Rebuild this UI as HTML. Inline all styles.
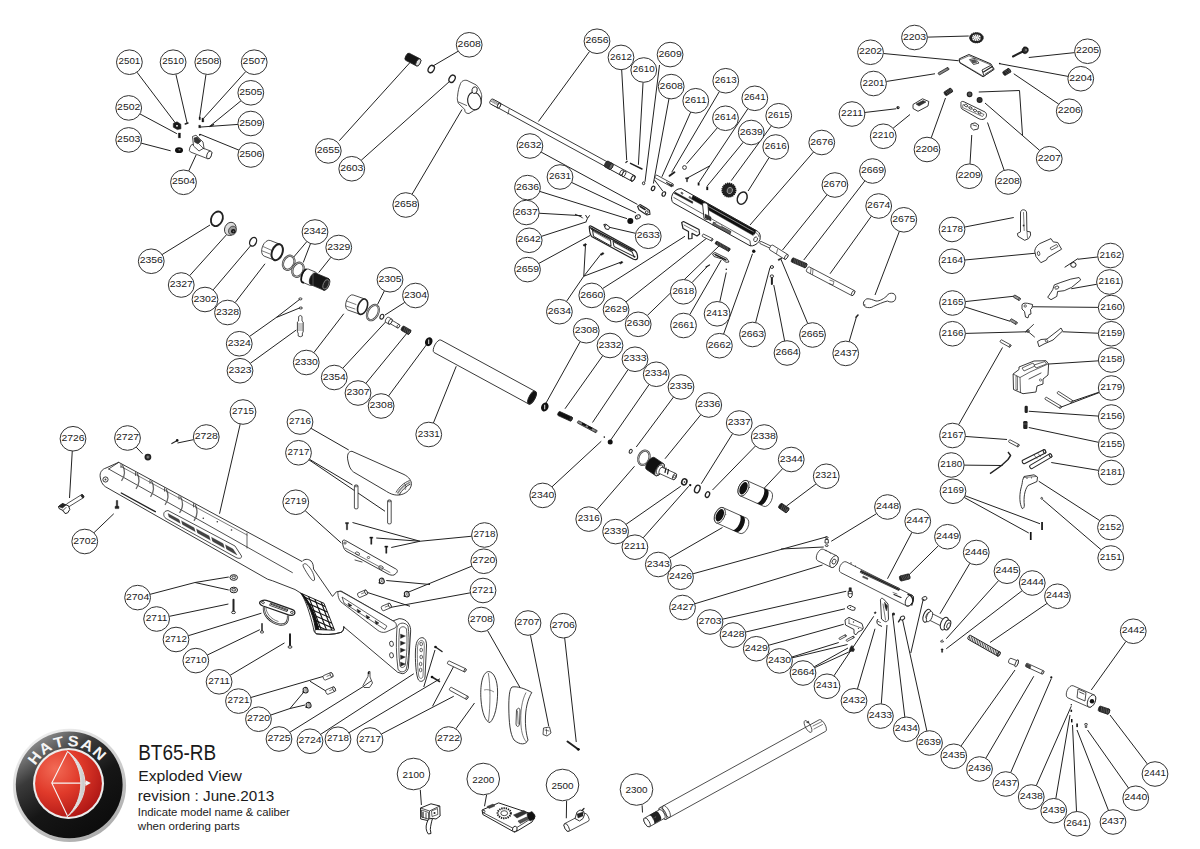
<!DOCTYPE html>
<html><head><meta charset="utf-8"><style>
html,body{margin:0;padding:0;background:#fff;width:1200px;height:849px;overflow:hidden}
svg{display:block}
</style></head><body>
<svg width="1200" height="849" viewBox="0 0 1200 849">
<rect width="1200" height="849" fill="#fff"/>
<path d="M136.95 72.18L175.4 123M175.87 74.21L187.1 123M205.99 74.38L199.5 118.2M245.79 71.53L203.7 118.2M240.99 100.79L210.3 125.8M237.94 124.41L199.9 127.1M238.94 150.15L199.9 134.2M139.95 113.92L176.9 133.7M141.15 143.13L170.7 150.8M188.7 171.04L196.1 155M458.2 51.23L432.5 66.25M339.3 140.7L410 62.5M361.16 160.34L450 81M412.07 194.28L462 109.5M589.63 51.34L538.4 121.5M621.68 69.68L626.7 160.1M643.06 82.28L638.4 164.8M659.5 65L645 181.8M668.97 98.72L653.4 183.5M654.4 179.9L662.9 191.2M690.71 112.07L661.9 176.8M719.42 91.47L671.7 172.3M747.89 108.69L709.9 165.8M709.9 165.8L687.2 178.1M709.9 165.8L698.9 182.6M717.35 127.79L686.6 163.8M743.29 142.18L707.3 185.9M771.37 125.84L731.2 180.7M769.12 157.55L748.1 191M813.52 151.97L750 225M541.11 152.09L637.4 204.4M571.56 182.45L636.1 212.9M539.76 191.42L627 218.6M539.13 213.24L581.8 215.7M541.42 236.36L586.5 221.8M538.7 263.49L590 235.5M635.71 233.35L608.2 227M566.47 301.41L583.75 276.25M583.75 276.25L585.5 245M583.75 276.25L601.25 253.75M583.75 276.25L620 262.5M602.54 288.58L685 236.25M626.03 301.85L707.5 237.5M647.25 315.53L720 245M691.95 282.67L707.5 266.25M689.71 314.72L721.25 260M719.77 301.77L726.25 272.5M723.59 334.07L752.5 253.75M755.62 322.56L770 267.5M784.64 340.91L773.75 285M807.74 323.57L781.25 260M849.18 341.56L856.25 317.5M827.04 194.75L782.5 250M864.85 180.9L803.75 260M871.41 216.15L830 273.75M899.38 231.35L875 295M927.39 37.14L968.75 36M883.33 53.49L958.75 60.75M886.23 81.48L935 73.75M864.8 112.48L896.25 108.75M893.07 128.27L910 114.5M931.18 137.86L945.5 98M969.99 163.97L971.75 135M1004.18 170.33L987.5 122.5M1039.71 150.47L985 103M1058.72 104.14L1013.75 73.75M1068.09 76.4L1000 63.75M1074.68 52.61L1028.75 57.5M964.64 227.04L1013.75 217.5M964.83 260.01L1035 253.25M965.31 301.59L1013.75 296.25M964.74 306.88L1010 321.25M965.39 333.41L1027.5 331.75M1097.69 256.98L1078 259.25M1096.82 284.24L1071.25 288.75M1098.35 307.38L1032.5 306.75M1098.36 333.22L1062.5 331.75M1098.38 360.83L1045 364.25M1099.11 392.15L1072.5 401.25M1099.27 392.56L1060 407.5M1098.38 416.1L1028.75 411.25M1098.66 442.33L1028.75 427.5M1098.54 470.38L1051.25 462.5M1099.81 520.61L1038.75 481.25M1101.16 549.78L1042.5 499.5M965.36 436.44L1007 439.5M958.64 424.69L1002.5 347.5M964.15 465.13L1002.5 465.5M965.01 495.74L1040 523.75M964.17 497.41L1028.75 533M162.08 254.57L210 225M189.65 275.67L226.25 235M213.11 289.94L251.25 245M235.13 302.58L265 263.75M306.88 241.56L293.75 257M310.55 243.55L303.25 262.5M330.93 257.28L318.75 272.5M249.6 336.41L276.25 317.5M276.25 317.5L299.5 299.5M276.25 317.5L299.5 308M250.27 363.31L296.25 330M313.88 352.58L343.75 313.75M384.4 290.83L377.5 304.5M404.79 302.35L385 315M342.78 368.27L386.25 321.25M365.93 383.3L407.5 332.5M388.54 395.95L427 344M433.38 423.02L456.25 366.25M580.2 341.61L546 403M602.76 355.68L565 408.75M628.04 369.61L592.5 422.5M649.14 384.51L610 441M673.52 397.02L636.25 447M700.84 414.72L665 458.75M732.64 433.56L701.25 483.75M755.46 446L712.5 490M782.63 468.65L762.5 490M816.11 483.85L786.25 506.25M551.96 486.84L601.25 441.25M596.96 509.61L634.5 466.25M626.02 524.35L680.75 486.25M643.21 537.79L688.75 486.25M669.34 558.14L722.5 527.5M692.89 573.82L827 536.75M781 549L823.75 547M694.79 603.77L822.5 565M876.63 513.62L831.25 541.25M911.97 532.24L887.5 578.75M938.54 545.6L908.75 575M969.91 563.21L940 613.75M998.6 580.58L946.25 638.75M1022.19 590.69L946.25 648.75M1047.02 603.43L990 642.5M1125.98 641.41L1091.25 690M722.55 619.17L846.25 591.25M745.53 632.06L845 608.75M768.63 645.28L843.75 624.25M791.77 657.09L838.75 642.5M792.01 657.88L847.5 644.5M814.15 666.81L848 648M814.63 667.67L851 651M833.93 675.87L873.75 616.25M857.45 688.95L875 628.75M881.29 703.83L887 625M904.84 717.08L892.5 613.75M926.86 730.96L902.4 619.2M910.8 653L923.5 598M960.98 746.07L1015 670M985.78 758.26L1033.75 676.25M1010.67 772.63L1051.25 678.75M1036.25 785.66L1071.25 706.25M1055.81 798.61L1070 715M1076.53 811.51L1072.5 725M1108.49 810.48L1077 730M1128.54 788.05L1087.5 730M1147.41 764.05L1110 715M240.23 424.01L219.5 513.75M72.27 451.03L69.5 498M136.17 447.11L142.5 453.75M193.65 439.63L177.5 443M311.05 428.35L348.75 450M309.43 459.28L352.5 485M309.02 459.87L385 511.25M305.15 510.67L341.25 543M93.86 532.79L113.75 513.75M150.04 594.33L195 582.5M195 582.5L228.75 577M195 582.5L228.75 590M169.2 616.37L228.4 604M188.28 635.72L261.4 613.2M207.31 655.04L259.8 629.7M230.04 675.29L284.5 642.9M250.84 697.5L323.75 676.25M310 681.25L326.25 691.25M270.65 715.07L290 708.5M290 708.5L303 693M290 708.5L305 705M289.8 732.28L363.75 686.25M320.66 734.32L413.75 673.75M348.95 732.75L440 678.75M423.75 687L435 650M381.31 734.09L453.75 696.25M432.5 706.25L453.75 666.25M455.82 728.87L474.5 703M487.41 630.31L520 687.5M530.43 635.08L548.75 726.25M564.66 637.93L576.25 742M471.67 536.24L420 541.25M420 541.25L352.5 522.5M420 541.25L376.25 538M420 541.25L391.25 547.5M471.9 566.11L407.5 592.5M430 584.5L386.25 580.5M470.33 592.82L390 607.5M410 606.25L367.5 592.5M420.3 789.8L421.4 805M486.6 794.8L484.5 806.25M566.6 800.8L566.3 818.25M642.1 805.3L642.5 812.5M1022.5 135L1019.5 90.5L978.75 92" fill="none" stroke="#222" stroke-width="1.0"/>
<g fill="none"><path d="M173.3 123.5 L177 121.8 L180.8 124.2 L181 128.8 L177.3 129.6 L173.3 127.2Z" fill="#1a1a1a" stroke="#222" stroke-width="0.6" stroke-linejoin="round"/><rect x="176" y="125" width="2" height="1.6" fill="#ccc"/><path d="M185.2 124L188 123" stroke="#222" stroke-width="1.4" stroke-linecap="round"/><path d="M199 117.1L200.4 117.1L200.4 119.8L199 119.8Z" fill="#111" stroke="#222" stroke-width="0.3" stroke-linejoin="round"/><path d="M201.9 118.1L203.8 118.1L203.8 122L201.9 122Z" fill="#111" stroke="#222" stroke-width="0.3" stroke-linejoin="round"/><path d="M198.7 125.2L200.6 125.2L200.6 127.8L198.7 127.8Z" fill="#111" stroke="#222" stroke-width="0.3" stroke-linejoin="round"/><path d="M209.9 126.4L213.5 124.6" stroke="#222" stroke-width="1.4" stroke-linecap="round"/><circle cx="199.8" cy="134.8" r="0.9" fill="#111"/><path d="M178.3 133L180.5 133L180.5 137.9L178.3 137.9Z" fill="#111" stroke="#222" stroke-width="0.3" stroke-linejoin="round"/><ellipse cx="179" cy="150.2" rx="4" ry="2.9" transform="rotate(0 179 150.2)" fill="#111" stroke="#222" stroke-width="0"/><ellipse cx="179.5" cy="149.8" rx="1.2" ry="0.8" fill="#888"/><path d="M190.51 152.02L207.71 158.72A2.25 4.1 21.28 0 0 210.69 151.08L193.49 144.38A2.25 4.1 21.28 0 0 190.51 152.02Z" fill="#fff" stroke="#222" stroke-width="0.8"/><ellipse cx="209.2" cy="154.9" rx="2.25" ry="4.1" transform="rotate(21.28 209.2 154.9)" fill="#fff" stroke="#222" stroke-width="0.8"/><path d="M192.5 136.5 L196 135.2 L203 142 L204 148 L199 151 L193.5 146 Z" fill="#fff" stroke="#222" stroke-width="0.8" stroke-linejoin="round"/><path d="M194 138 L197 137 L201 141 L198 144 L194.5 142Z" fill="#333" stroke="#222" stroke-width="0.5" stroke-linejoin="round"/><path d="M199 144L204 149" stroke="#222" stroke-width="0.7" stroke-linecap="round"/><path d="M405.66 60.35L416.46 65.95A2 4 27.41 0 0 420.14 58.85L409.34 53.25A2 4 27.41 0 0 405.66 60.35Z" fill="#151515" stroke="#222" stroke-width="0.8"/><ellipse cx="418.3" cy="62.4" rx="2" ry="4" transform="rotate(27.41 418.3 62.4)" fill="#e0e0e0" stroke="#222" stroke-width="0.8"/><ellipse cx="431.25" cy="69" rx="2.8" ry="3.9" transform="rotate(30 431.25 69)" fill="none" stroke="#222" stroke-width="1.3"/><ellipse cx="452.1" cy="78.75" rx="2.8" ry="3.9" transform="rotate(30 452.1 78.75)" fill="none" stroke="#222" stroke-width="1.3"/><path d="M460 85 C461 81, 464 79.8, 467 80.4 L476.3 85 C480 89, 482 94, 481.7 97 L480.8 104.2 C478 108, 476 110, 473.3 110.8 L469 113.5 C466 113.7, 464.5 112, 464.8 109.5 L458.3 103.3 C457 100, 457.3 97, 457.5 96.7 C458 91, 459 87, 460 85Z" fill="#fff" stroke="#222" stroke-width="0.8" stroke-linejoin="round"/><ellipse cx="474.4" cy="101" rx="6.7" ry="8.8" transform="rotate(-12 474.4 101)" fill="#fff" stroke="#222" stroke-width="1.1"/><ellipse cx="474.6" cy="90.2" rx="2.6" ry="3.4" transform="rotate(15 474.6 90.2)" fill="#fff" stroke="#222" stroke-width="0.9"/><path d="M458.6 102L466.6 105.5" stroke="#222" stroke-width="0.7" stroke-linecap="round"/><ellipse cx="216.9" cy="218.8" rx="5.6" ry="7.6" transform="rotate(25 216.9 218.8)" fill="none" stroke="#222" stroke-width="1.8"/><ellipse cx="230.3" cy="228.9" rx="5.6" ry="6.8" transform="rotate(25 230.3 228.9)" fill="#ddd" stroke="#222" stroke-width="0.8"/><ellipse cx="232.4" cy="230.6" rx="3.8" ry="4.6" transform="rotate(25 232.4 230.6)" fill="#999" stroke="#222" stroke-width="0.6"/><circle cx="233.3" cy="231.3" r="2.3" fill="#111"/><circle cx="233.5" cy="231.4" r="0.9" fill="#666"/><ellipse cx="253.1" cy="241.75" rx="3.2" ry="4.6" transform="rotate(25 253.1 241.75)" fill="none" stroke="#222" stroke-width="1.3"/><path d="M264.15 256.13L274.15 260.03A5.04 8.4 21.31 0 0 280.25 244.37L270.25 240.47A5.04 8.4 21.31 0 0 264.15 256.13Z" fill="#fff" stroke="#222" stroke-width="0.8"/><ellipse cx="277.2" cy="252.2" rx="5.2" ry="8.4" transform="rotate(21 277.2 252.2)" fill="#fff" stroke="#222" stroke-width="2.0"/><path d="M263 246.5L272 250.5" stroke="#222" stroke-width="0.6" stroke-linecap="round"/><path d="M262.5 251L270 254" stroke="#222" stroke-width="0.6" stroke-linecap="round"/><ellipse cx="288.7" cy="262.75" rx="5.4" ry="7.3" transform="rotate(25 288.7 262.75)" fill="none" stroke="#444" stroke-width="2.2"/><ellipse cx="288.7" cy="262.75" rx="5.4" ry="7.3" transform="rotate(25 288.7 262.75)" fill="none" stroke="#ccc" stroke-width="0.7"/><ellipse cx="298" cy="269.75" rx="5.4" ry="7.3" transform="rotate(25 298 269.75)" fill="none" stroke="#444" stroke-width="2.2"/><ellipse cx="298" cy="269.75" rx="5.4" ry="7.3" transform="rotate(25 298 269.75)" fill="none" stroke="#ccc" stroke-width="0.7"/><path d="M302.75 282.35L310.25 285.45A3.6 7.2 22.46 0 0 315.75 272.15L308.25 269.05A3.6 7.2 22.46 0 0 302.75 282.35Z" fill="#fff" stroke="#222" stroke-width="0.8"/><path d="M306.5 269 A3.2 7.2 22 0 0 304 282.4" stroke="#111" stroke-width="1.8" fill="none"/><path d="M310.55 284.6L323.55 290.1A3.15 6.3 22.93 0 0 328.45 278.5L315.45 273A3.15 6.3 22.93 0 0 310.55 284.6Z" fill="#151515" stroke="#222" stroke-width="0.8"/><ellipse cx="326" cy="284.3" rx="3.15" ry="6.3" transform="rotate(22.93 326 284.3)" fill="#151515" stroke="#222" stroke-width="0.8"/><ellipse cx="326" cy="284.3" rx="2.6" ry="5" transform="rotate(22 326 284.3)" fill="#222" stroke="#888" stroke-width="0.8"/><path d="M313 272.5L313 285" stroke="#888" stroke-width="0.5" stroke-linecap="round"/><ellipse cx="300.4" cy="298.9" rx="1.6" ry="1" transform="rotate(0 300.4 298.9)" fill="none" stroke="#222" stroke-width="0.9"/><ellipse cx="300.8" cy="308" rx="1.6" ry="1" transform="rotate(0 300.8 308)" fill="none" stroke="#222" stroke-width="0.9"/><path d="M298.6 316.5 Q300.3 314.4 302 316.5 L302 321 L303.2 322 L303.2 332 L302.4 333 L302.4 336 Q300.3 337.5 298.2 336 L298.2 333 L297.4 332 L297.4 322 L298.6 321Z" fill="#fff" stroke="#222" stroke-width="0.8" stroke-linejoin="round"/><path d="M297.6 324L303 324" stroke="#222" stroke-width="0.5" stroke-linecap="round"/><path d="M297.6 326L303 326" stroke="#222" stroke-width="0.5" stroke-linecap="round"/><path d="M297.6 330L303 330" stroke="#222" stroke-width="0.5" stroke-linecap="round"/><path d="M297.6 328L303 328" stroke="#222" stroke-width="0.5" stroke-linecap="round"/><path d="M347.88 310.06L359.98 314.26A4.4 8 19.14 0 0 365.22 299.14L353.12 294.94A4.4 8 19.14 0 0 347.88 310.06Z" fill="#fff" stroke="#222" stroke-width="0.8"/><ellipse cx="362.6" cy="306.7" rx="4.6" ry="8" transform="rotate(20 362.6 306.7)" fill="#fff" stroke="#222" stroke-width="1.6"/><path d="M346.5 301L356 304.5" stroke="#222" stroke-width="0.6" stroke-linecap="round"/><path d="M346 306L355 309" stroke="#222" stroke-width="0.6" stroke-linecap="round"/><ellipse cx="372.9" cy="312.6" rx="5.2" ry="8.2" transform="rotate(28 372.9 312.6)" fill="none" stroke="#444" stroke-width="2.2"/><ellipse cx="372.9" cy="312.6" rx="5.2" ry="8.2" transform="rotate(28 372.9 312.6)" fill="none" stroke="#ccc" stroke-width="0.7"/><ellipse cx="381.9" cy="316.7" rx="1.8" ry="2.5" transform="rotate(25 381.9 316.7)" fill="none" stroke="#222" stroke-width="1.1"/><path d="M388.53 322.64L397.33 327.84A1.14 1.9 30.58 0 0 399.27 324.56L390.47 319.36A1.14 1.9 30.58 0 0 388.53 322.64Z" fill="#fff" stroke="#222" stroke-width="0.8"/><ellipse cx="398.3" cy="326.2" rx="1.14" ry="1.9" transform="rotate(30.58 398.3 326.2)" fill="#fff" stroke="#222" stroke-width="0.8"/><path d="M385.74 322.31L388.84 324.11A1.45 2.9 30.14 0 0 391.76 319.09L388.66 317.29A1.45 2.9 30.14 0 0 385.74 322.31Z" fill="#fff" stroke="#222" stroke-width="0.8"/><ellipse cx="390.3" cy="321.6" rx="1.45" ry="2.9" transform="rotate(30.14 390.3 321.6)" fill="#fff" stroke="#222" stroke-width="0.8"/><path d="M401.44 330.46L407.94 334.26A1.12 2.5 30.31 0 0 410.46 329.94L403.96 326.14A1.12 2.5 30.31 0 0 401.44 330.46Z" fill="#222" stroke="#222" stroke-width="0.8"/><ellipse cx="409.2" cy="332.1" rx="1.12" ry="2.5" transform="rotate(30.31 409.2 332.1)" fill="#555" stroke="#222" stroke-width="0.8"/><path d="M403.75 331.23L404.9 327.27" stroke="#aaa" stroke-width="0.35"/><path d="M405.37 332.18L406.53 328.22" stroke="#aaa" stroke-width="0.35"/><path d="M407 333.13L408.15 329.17" stroke="#aaa" stroke-width="0.35"/><path d="M434.11 352.54L528.61 403.94A2.98 7.1 28.54 0 0 535.39 391.46L440.89 340.06A2.98 7.1 28.54 0 0 434.11 352.54Z" fill="#fff" stroke="#222" stroke-width="0.9"/><ellipse cx="532" cy="397.7" rx="2.98" ry="7.1" transform="rotate(28.54 532 397.7)" fill="#111" stroke="#222" stroke-width="0.9"/><ellipse cx="428.75" cy="341.7" rx="3.6" ry="4.6" transform="rotate(25 428.75 341.7)" fill="#111" stroke="#222" stroke-width="0"/><path d="M428.3 339.5 L429.2 339.5 L429.2 344 L428.3 344Z" fill="#fff"/><ellipse cx="544.8" cy="407" rx="3.6" ry="4.6" transform="rotate(25 544.8 407)" fill="#111" stroke="#222" stroke-width="0"/><path d="M544.3 404.8 L545.2 404.8 L545.2 409.3 L544.3 409.3Z" fill="#fff"/><path d="M100.2 477 C99.5 472.5 102 469.2 106 468 L118.7 462.3 L302 561.5 C304 559 308 558.5 311 561 C313 563 313.5 566 313.5 569 L332.5 596.4 L336.4 591.8 L341 591 L393 620.9 L399.2 618.6 C403 618.8 406 620 408 622.8 C410.5 626 410.8 629 410.6 632 L408.3 668.3 C407 672 404.5 673.8 402.2 673.7 L397.6 672.2 L344 627 C344 629.5 342.5 632 341 632.4 C333 634.8 324 634.8 316.4 633.9 C313.5 632 313.5 629.5 313.4 627.8 C310 614 306 601 301.1 593.3 L295 589.5 L272.6 580.8 L267.6 579.2 L105.5 486.8 C102.5 485 100.6 481 100.2 477Z" fill="#fff" stroke="#222" stroke-width="0.9" stroke-linejoin="round"/><path d="M108.7 469L292.4 572.6" stroke="#222" stroke-width="0.8" stroke-linecap="round"/><path d="M118.7 462.3L108.7 469" stroke="#222" stroke-width="0.8" stroke-linecap="round"/><path d="M247 533L247 548" stroke="#222" stroke-width="0.7" stroke-linecap="round"/><path d="M121.0 463.8 L121.0 468.0" fill="none" stroke="#222" stroke-width="0.7" stroke-linejoin="round"/><path d="M122.5 465.0 Q127.0 473.7 121.5 480.8" fill="none" stroke="#666" stroke-width="1.3" stroke-linejoin="round"/><path d="M135.5 471.7 L135.5 475.9" fill="none" stroke="#222" stroke-width="0.7" stroke-linejoin="round"/><path d="M137.0 472.9 Q141.5 481.6 136.0 488.8" fill="none" stroke="#666" stroke-width="1.3" stroke-linejoin="round"/><path d="M150.0 479.6 L150.0 483.8" fill="none" stroke="#222" stroke-width="0.7" stroke-linejoin="round"/><path d="M151.5 480.8 Q156.0 489.5 150.5 496.8" fill="none" stroke="#666" stroke-width="1.3" stroke-linejoin="round"/><path d="M164.5 487.4 L164.5 491.6" fill="none" stroke="#222" stroke-width="0.7" stroke-linejoin="round"/><path d="M166.0 488.6 Q170.5 497.5 165.0 504.8" fill="none" stroke="#666" stroke-width="1.3" stroke-linejoin="round"/><path d="M179.0 495.3 L179.0 499.5" fill="none" stroke="#222" stroke-width="0.7" stroke-linejoin="round"/><path d="M180.5 496.5 Q185.0 505.4 179.5 512.8" fill="none" stroke="#666" stroke-width="1.3" stroke-linejoin="round"/><path d="M193.5 503.2 L193.5 507.4" fill="none" stroke="#222" stroke-width="0.7" stroke-linejoin="round"/><path d="M195.0 504.4 Q199.5 513.3 194.0 520.8" fill="none" stroke="#666" stroke-width="1.3" stroke-linejoin="round"/><path d="M121 466.5L247 535" stroke="#222" stroke-width="0.6" stroke-linecap="round"/><ellipse cx="105.5" cy="479.5" rx="2.6" ry="2.6" transform="rotate(0 105.5 479.5)" fill="none" stroke="#222" stroke-width="0.9"/><circle cx="105.5" cy="479.5" r="1" fill="#444"/><path d="M121.3 493L155.3 511.7" stroke="#222" stroke-width="1.4" stroke-linecap="round"/><path d="M166 511 C163 512 163 516.5 166 518.5 L236 557.5 C239 559 242 558.5 241.5 556 L235 546 L168 510.5Z" fill="#fff" stroke="#222" stroke-width="0.8" stroke-linejoin="round"/><path d="M168 513.5 L233 549 L237 555 L169 517Z" fill="#444" stroke="#222" stroke-width="0.3" stroke-linejoin="round"/><path d="M180.0 518.7 L182.0 526.7" stroke="#fff" stroke-width="1.6"/><path d="M195.0 527.0 L197.0 535.0" stroke="#fff" stroke-width="1.6"/><path d="M210.0 535.2 L212.0 543.2" stroke="#fff" stroke-width="1.6"/><path d="M224.0 542.9 L226.0 550.9" stroke="#fff" stroke-width="1.6"/><circle cx="203.3" cy="518.2" r="0.8" fill="#333"/><circle cx="217.3" cy="521.8" r="0.8" fill="#333"/><circle cx="231.5" cy="530" r="0.8" fill="#333"/><path d="M303.5 567 C302 564 304.5 563 306.5 564.3 C310 567 314 573 314.6 579 C314.8 581 313 581 311.5 579.5 C308 575 305 570 303.5 567Z" fill="#fff" stroke="#222" stroke-width="0.8" stroke-linejoin="round"/><clipPath id="gripc"><path d="M300.7 593.1 L324 603.3 L334.6 630.2 L315.5 629.5 C314 618 309 604 300.7 593.1Z"/></clipPath><path d="M300.7 593.1 L324 603.3 L334.6 630.2 L315.5 629.5 C314 618 309 604 300.7 593.1Z" fill="#fff" stroke="#222" stroke-width="1.0" stroke-linejoin="round"/><g clip-path="url(#gripc)" stroke="#111" stroke-width="1.1"><path d="M295 593.0 L340 613.0"/><path d="M295 597.6 L340 617.6"/><path d="M295 602.2 L340 622.2"/><path d="M295 606.8 L340 626.8"/><path d="M295 611.4 L340 631.4"/><path d="M295 616.0 L340 636.0"/><path d="M295 620.6 L340 640.6"/><path d="M295 625.2 L340 645.2"/><path d="M301.0 590 L318.0 635"/><path d="M306.2 590 L323.2 635"/><path d="M311.4 590 L328.4 635"/><path d="M316.6 590 L333.6 635"/><path d="M321.8 590 L338.8 635"/><path d="M300.7 593.1 C309 604 314 618 315.5 629.5 L319.5 630 C317 618 311 602 303 594Z" fill="#111" stroke="none"/></g><path d="M315 629.5 C314.5 632 315.5 633.7 317 633.9 C324 635 334 634.8 341 632.4 C343 631.5 344 629 343.8 626" fill="none" stroke="#222" stroke-width="1.0" stroke-linejoin="round"/><path d="M338 594 C337 591.5 339.5 590.8 342 592 L394 621.5 C397 623 397 627 395 628 L386 632 C383 633 380 632 378 630.5 L341 602 C338.5 599 338 596 338 594Z" fill="#fff" stroke="#222" stroke-width="0.8" stroke-linejoin="round"/><path d="M342 597 L386.9 626 L385 629.5 L344 603Z" fill="#fff" stroke="#222" stroke-width="0.7" stroke-linejoin="round"/><path d="M348.0 603.0 l4 2.5 l-3 1.5Z" fill="#222" stroke="#222" stroke-width="0.4" stroke-linejoin="round"/><path d="M357.0 609.0 l4 2.5 l-3 1.5Z" fill="#222" stroke="#222" stroke-width="0.4" stroke-linejoin="round"/><path d="M366.0 615.0 l4 2.5 l-3 1.5Z" fill="#222" stroke="#222" stroke-width="0.4" stroke-linejoin="round"/><path d="M375.0 620.5 l4 2.5 l-3 1.5Z" fill="#222" stroke="#222" stroke-width="0.4" stroke-linejoin="round"/><path d="M397 627 C399 622 405 622 408 626 C410 640 409 660 406 670 C403 673 399 672 398 669 C396 655 396 640 397 627Z" fill="#fff" stroke="#222" stroke-width="0.8" stroke-linejoin="round"/><path d="M399.5 629 C401 626 405 626 406.5 629 C407.5 640 407 656 405 666 C403 668 401 668 400 666 C398.5 655 398.5 640 399.5 629Z" fill="#fff" stroke="#222" stroke-width="0.7" stroke-linejoin="round"/><path d="M400.5 634.0 l5 2 l-5 2.5Z" fill="#222" stroke="#222" stroke-width="0.3" stroke-linejoin="round"/><path d="M400.5 641.0 l5 2 l-5 2.5Z" fill="#222" stroke="#222" stroke-width="0.3" stroke-linejoin="round"/><path d="M400.5 648.0 l5 2 l-5 2.5Z" fill="#222" stroke="#222" stroke-width="0.3" stroke-linejoin="round"/><path d="M400.5 655.0 l5 2 l-5 2.5Z" fill="#222" stroke="#222" stroke-width="0.3" stroke-linejoin="round"/><path d="M400.5 662.0 l5 2 l-5 2.5Z" fill="#222" stroke="#222" stroke-width="0.3" stroke-linejoin="round"/><ellipse cx="391.5" cy="643.8" rx="1.9" ry="2.7" transform="rotate(-10 391.5 643.8)" fill="none" stroke="#222" stroke-width="0.8"/><ellipse cx="391.5" cy="655.3" rx="1.9" ry="2.7" transform="rotate(-10 391.5 655.3)" fill="none" stroke="#222" stroke-width="0.8"/><path d="M68.45 507.03L83.45 497.73A1.08 1.8 -31.8 0 0 81.55 494.67L66.55 503.97A1.08 1.8 -31.8 0 0 68.45 507.03Z" fill="#fff" stroke="#222" stroke-width="0.8"/><ellipse cx="82.5" cy="496.2" rx="1.08" ry="1.8" transform="rotate(-31.8 82.5 496.2)" fill="#222" stroke="#222" stroke-width="0.8"/><path d="M58.5 506.5 L62.5 503.6 L68.5 505.8 L69.8 509.5 L67.5 513 L65 513.5 L63 510.5 L59 508.5Z" fill="#fff" stroke="#222" stroke-width="1.0" stroke-linejoin="round"/><path d="M58.5 506.5 L62.5 503.6 L66 505 L62.5 508Z" fill="#222" stroke="#222" stroke-width="0.6" stroke-linejoin="round"/><path d="M63 510.5L66 507.5" stroke="#222" stroke-width="0.8" stroke-linecap="round"/><path d="M116.3 500.5 L117.7 500.5 L117.7 506 L119 506.5 L118.8 508.6 L115.2 508.6 L115 506.5 L116.3 506Z" fill="#222" stroke="#222" stroke-width="0.5" stroke-linejoin="round"/><ellipse cx="147.9" cy="457.1" rx="2.6" ry="2.6" transform="rotate(0 147.9 457.1)" fill="#555" stroke="#222" stroke-width="1.6"/><circle cx="147.9" cy="457.1" r="0.8" fill="#999"/><path d="M171.8 443.6L177.3 440.6" stroke="#222" stroke-width="1.1" stroke-linecap="round"/><circle cx="177.2" cy="440.4" r="1.3" fill="#111"/><ellipse cx="233.75" cy="577.5" rx="3.8" ry="2.8" transform="rotate(0 233.75 577.5)" fill="#fff" stroke="#222" stroke-width="1.0"/><ellipse cx="233.75" cy="577.3" rx="2" ry="1.3" transform="rotate(0 233.75 577.3)" fill="#ddd" stroke="#222" stroke-width="0.8"/><ellipse cx="233.75" cy="590" rx="3.8" ry="2.8" transform="rotate(0 233.75 590)" fill="#fff" stroke="#222" stroke-width="1.0"/><ellipse cx="233.75" cy="589.8" rx="2" ry="1.3" transform="rotate(0 233.75 589.8)" fill="#ddd" stroke="#222" stroke-width="0.8"/><path d="M233.5 599.8L233.5 611.5" stroke="#222" stroke-width="2.0" stroke-linecap="round"/><ellipse cx="233.5" cy="612.4" rx="2" ry="1.2" transform="rotate(0 233.5 612.4)" fill="#fff" stroke="#222" stroke-width="0.9"/><path d="M264 607 C263 615 270 622.5 279.5 624.5 C285 625.5 288.5 622.5 288 615.5" fill="none" stroke="#222" stroke-width="2.2" stroke-linejoin="round"/><path d="M264 607 C263 615 270 622.5 279.5 624.5 C285 625.5 288.5 622.5 288 615.5" fill="none" stroke="#fff" stroke-width="0.7" stroke-linejoin="round"/><path d="M261.5 600.8 C263.5 599.8 266 600 268 600.8 L292.5 609.6 C295 610.6 295.6 613 294 614.5 C292.5 615.6 290.5 615.4 288.5 614.8 L263 606 C260.5 605 259 603.3 259.8 602 Z" fill="#fff" stroke="#222" stroke-width="1.3" stroke-linejoin="round"/><path d="M270.5 603.2 L288 609.6 L287 611.6 L269.5 605.3Z" fill="#fff" stroke="#222" stroke-width="0.8" stroke-linejoin="round"/><path d="M271 604.3L287.5 610.5" stroke="#222" stroke-width="0.9" stroke-linecap="round"/><ellipse cx="263" cy="602.6" rx="1.4" ry="1" transform="rotate(20 263 602.6)" fill="none" stroke="#222" stroke-width="0.8"/><ellipse cx="291.8" cy="612.4" rx="1.4" ry="1" transform="rotate(20 291.8 612.4)" fill="none" stroke="#222" stroke-width="0.8"/><path d="M266 607.5 C266 613 271 619.5 278.5 621.5" fill="none" stroke="#222" stroke-width="0.6" stroke-linejoin="round"/><path d="M262 623.8L262 631.2" stroke="#222" stroke-width="1.5" stroke-linecap="round"/><ellipse cx="262" cy="632" rx="1.7" ry="1.1" transform="rotate(0 262 632)" fill="#fff" stroke="#222" stroke-width="0.8"/><path d="M290 634.3L290 646" stroke="#222" stroke-width="2.0" stroke-linecap="round"/><ellipse cx="290" cy="647" rx="2" ry="1.2" transform="rotate(0 290 647)" fill="#fff" stroke="#222" stroke-width="0.9"/><path d="M348 461 C346.5 455 348.5 451 352 451.3 L404 474.5 C409 477 412 481 411.3 485 C410.5 490 405 494.5 399 495 C393 495.5 389 493 385 490.5 L353.5 472 C350 469.5 348.8 465 348 461Z" fill="#fff" stroke="#222" stroke-width="0.9" stroke-linejoin="round"/><path d="M399 495 C402 490 406 486 410.5 484" fill="none" stroke="#222" stroke-width="0.9" stroke-linejoin="round"/><path d="M396 492.5 C399 487 404 482.5 409.8 480.5" fill="none" stroke="#222" stroke-width="0.8" stroke-linejoin="round"/><path d="M397.5 493.5 C400.5 488.5 405 484.3 410.2 482.3" fill="none" stroke="#888" stroke-width="1.6" stroke-linejoin="round"/><path d="M404 483 C406 485 406.5 488 405 490" fill="none" stroke="#222" stroke-width="0.6" stroke-linejoin="round"/><path d="M354.4 486L354.4 508A0.9 1.8 90 0 0 358 508L358 486A0.9 1.8 90 0 0 354.4 486Z" fill="#fff" stroke="#222" stroke-width="0.8"/><ellipse cx="356.2" cy="486" rx="1.8" ry="0.8" transform="rotate(0 356.2 486)" fill="#fff" stroke="#222" stroke-width="0.7"/><path d="M387.6 501L387.6 523A0.9 1.8 90 0 0 391.2 523L391.2 501A0.9 1.8 90 0 0 387.6 501Z" fill="#fff" stroke="#222" stroke-width="0.8"/><ellipse cx="389.4" cy="501" rx="1.8" ry="0.8" transform="rotate(0 389.4 501)" fill="#fff" stroke="#222" stroke-width="0.7"/><path d="M345.5 522.5 h3 v1.3 h-0.9 v6 h-1.2 v-6 h-0.9Z" fill="#111" stroke="#222" stroke-width="0.4" stroke-linejoin="round"/><path d="M369.8 537.0 h3 v1.3 h-0.9 v6 h-1.2 v-6 h-0.9Z" fill="#111" stroke="#222" stroke-width="0.4" stroke-linejoin="round"/><path d="M384.8 546.0 h3 v1.3 h-0.9 v6 h-1.2 v-6 h-0.9Z" fill="#111" stroke="#222" stroke-width="0.4" stroke-linejoin="round"/><path d="M342.5 542.5 C342 540 344 539.5 345.5 540.5 L395 568.5 C397.5 569.5 398 571 396.5 573 L394 575 C392 575.5 390 575 388 574 L346 551 C343.5 549 343 546 342.5 542.5Z" fill="#fff" stroke="#222" stroke-width="0.9" stroke-linejoin="round"/><path d="M345 548L390 572.5" stroke="#222" stroke-width="0.6" stroke-linecap="round"/><ellipse cx="345" cy="543" rx="1.3" ry="1" transform="rotate(0 345 543)" fill="none" stroke="#222" stroke-width="0.7"/><ellipse cx="357.5" cy="553.5" rx="2.2" ry="1.3" transform="rotate(25 357.5 553.5)" fill="none" stroke="#222" stroke-width="0.7"/><ellipse cx="368.5" cy="557.5" rx="1.2" ry="1" transform="rotate(0 368.5 557.5)" fill="none" stroke="#222" stroke-width="0.7"/><ellipse cx="381" cy="567.5" rx="2.3" ry="1.6" transform="rotate(20 381 567.5)" fill="none" stroke="#222" stroke-width="0.7"/><path d="M355 560L362 562" stroke="#222" stroke-width="0.8" stroke-linecap="round"/><circle cx="379.55" cy="582.75" r="1" fill="#111"/><ellipse cx="381.85" cy="580.95" rx="2.4" ry="2.8" transform="rotate(-20 381.85 580.95)" fill="#fff" stroke="#222" stroke-width="1.0"/><ellipse cx="382.15" cy="580.75" rx="1" ry="1.3" transform="rotate(-20 382.15 580.75)" fill="none" stroke="#222" stroke-width="0.6"/><circle cx="404.55" cy="596" r="1" fill="#111"/><ellipse cx="406.85" cy="594.2" rx="2.4" ry="2.8" transform="rotate(-20 406.85 594.2)" fill="#fff" stroke="#222" stroke-width="1.0"/><ellipse cx="407.15" cy="594" rx="1" ry="1.3" transform="rotate(-20 407.15 594)" fill="none" stroke="#222" stroke-width="0.6"/><circle cx="303.3" cy="692" r="1" fill="#111"/><ellipse cx="305.6" cy="690.2" rx="2.4" ry="2.8" transform="rotate(-20 305.6 690.2)" fill="#fff" stroke="#222" stroke-width="1.0"/><ellipse cx="305.9" cy="690" rx="1" ry="1.3" transform="rotate(-20 305.9 690)" fill="none" stroke="#222" stroke-width="0.6"/><circle cx="306.3" cy="707" r="1" fill="#111"/><ellipse cx="308.6" cy="705.2" rx="2.4" ry="2.8" transform="rotate(-20 308.6 705.2)" fill="#fff" stroke="#222" stroke-width="1.0"/><ellipse cx="308.9" cy="705" rx="1" ry="1.3" transform="rotate(-20 308.9 705)" fill="none" stroke="#222" stroke-width="0.6"/><path d="M359.95 597.46L366.95 594.46A1.2 2.4 -23.2 0 0 365.05 590.04L358.05 593.04A1.2 2.4 -23.2 0 0 359.95 597.46Z" fill="#fff" stroke="#222" stroke-width="0.8"/><ellipse cx="366" cy="592.25" rx="1.2" ry="2.4" transform="rotate(-23.2 366 592.25)" fill="#fff" stroke="#222" stroke-width="0.8"/><path d="M361.5 593.75L364 592.75" stroke="#222" stroke-width="0.6" stroke-linecap="round"/><path d="M383.7 610.71L390.7 607.71A1.2 2.4 -23.2 0 0 388.8 603.29L381.8 606.29A1.2 2.4 -23.2 0 0 383.7 610.71Z" fill="#fff" stroke="#222" stroke-width="0.8"/><ellipse cx="389.75" cy="605.5" rx="1.2" ry="2.4" transform="rotate(-23.2 389.75 605.5)" fill="#fff" stroke="#222" stroke-width="0.8"/><path d="M385.25 607L387.75 606" stroke="#222" stroke-width="0.6" stroke-linecap="round"/><path d="M325.45 680.01L332.45 677.01A1.2 2.4 -23.2 0 0 330.55 672.59L323.55 675.59A1.2 2.4 -23.2 0 0 325.45 680.01Z" fill="#fff" stroke="#222" stroke-width="0.8"/><ellipse cx="331.5" cy="674.8" rx="1.2" ry="2.4" transform="rotate(-23.2 331.5 674.8)" fill="#fff" stroke="#222" stroke-width="0.8"/><path d="M327 676.3L329.5 675.3" stroke="#222" stroke-width="0.6" stroke-linecap="round"/><path d="M328.05 694.31L335.05 691.31A1.2 2.4 -23.2 0 0 333.15 686.89L326.15 689.89A1.2 2.4 -23.2 0 0 328.05 694.31Z" fill="#fff" stroke="#222" stroke-width="0.8"/><ellipse cx="334.1" cy="689.1" rx="1.2" ry="2.4" transform="rotate(-23.2 334.1 689.1)" fill="#fff" stroke="#222" stroke-width="0.8"/><path d="M329.6 690.6L332.1 689.6" stroke="#222" stroke-width="0.6" stroke-linecap="round"/><path d="M363 685.5 L366 680 L368 676.5 L368.5 671.5 L370 671.5 L370 677 L372.5 683 L369.5 687.5 L364 687.5Z" fill="#fff" stroke="#222" stroke-width="0.8" stroke-linejoin="round"/><circle cx="368.6" cy="673" r="1" fill="#111"/><path d="M364 686L371 681" stroke="#222" stroke-width="0.9" stroke-linecap="round"/><path d="M420.5 638 C424 636.5 426.8 640 426.5 646 L425 677 C424.3 681.5 420.5 682.5 418.5 680 C416 676 415 660 415.5 650 C415.8 643 417.5 639 420.5 638Z" fill="#fff" stroke="#222" stroke-width="0.9" stroke-linejoin="round"/><path d="M420.8 640.5 C423.5 640 424.5 643 424.3 647 L423 676 C422.5 679 420 679 419 677 C417.5 670 417 655 417.5 648 C417.8 643.5 419 641 420.8 640.5Z" fill="#fff" stroke="#222" stroke-width="0.6" stroke-linejoin="round"/><ellipse cx="421.2" cy="644" rx="1.3" ry="1.8" transform="rotate(0 421.2 644)" fill="none" stroke="#222" stroke-width="0.7"/><ellipse cx="421.2" cy="650" rx="1.3" ry="1.8" transform="rotate(0 421.2 650)" fill="none" stroke="#222" stroke-width="0.7"/><ellipse cx="421.2" cy="657" rx="1.3" ry="1.8" transform="rotate(0 421.2 657)" fill="none" stroke="#222" stroke-width="0.7"/><ellipse cx="420.6" cy="664" rx="1.3" ry="1.8" transform="rotate(0 420.6 664)" fill="none" stroke="#222" stroke-width="0.7"/><ellipse cx="420.6" cy="670" rx="1.3" ry="1.8" transform="rotate(0 420.6 670)" fill="none" stroke="#222" stroke-width="0.7"/><path d="M435.5 647L442 651.5" stroke="#222" stroke-width="1.5" stroke-linecap="round"/><circle cx="435.5" cy="647" r="1.3" fill="#111"/><path d="M432 677L439.5 681.5" stroke="#222" stroke-width="1.5" stroke-linecap="round"/><circle cx="432" cy="677" r="1.3" fill="#111"/><path d="M447.77 664.04L464.27 671.84A0.85 1.7 25.3 0 0 465.73 668.76L449.23 660.96A0.85 1.7 25.3 0 0 447.77 664.04Z" fill="#fff" stroke="#222" stroke-width="0.8"/><ellipse cx="465" cy="670.3" rx="0.85" ry="1.7" transform="rotate(25.3 465 670.3)" fill="#fff" stroke="#222" stroke-width="0.8"/><path d="M449.69 690.29L466.19 699.29A0.85 1.7 28.61 0 0 467.81 696.31L451.31 687.31A0.85 1.7 28.61 0 0 449.69 690.29Z" fill="#fff" stroke="#222" stroke-width="0.8"/><ellipse cx="467" cy="697.8" rx="0.85" ry="1.7" transform="rotate(28.61 467 697.8)" fill="#fff" stroke="#222" stroke-width="0.8"/><path d="M488.5 671.5 C494 672 497.5 680 497.6 692 C497.6 705 495 718 490 722.5 C485.5 722 482 713 481 700 C480 686 482 672.5 488.5 671.5Z" fill="#fff" stroke="#222" stroke-width="0.9" stroke-linejoin="round"/><path d="M488.3 673 C490.5 685 490.5 705 488.5 721" fill="none" stroke="#222" stroke-width="0.6" stroke-linejoin="round"/><path d="M484 690 C487 689 491 690 494 692" fill="none" stroke="#222" stroke-width="0.5" stroke-linejoin="round"/><path d="M512 687 C517 686 525 688.5 531.8 692.5 C529 697 526 705 525.5 716 C525 727 526.5 735 528 740 C526 745 520 745.3 514 740 C510 734 509 722 508.8 708 C508.7 697 509.5 689 512 687Z" fill="#fff" stroke="#222" stroke-width="0.9" stroke-linejoin="round"/><path d="M526 692.5 C522 700 520 712 521 725 C521.5 733 523.5 739 526.5 742" fill="none" stroke="#222" stroke-width="0.6" stroke-linejoin="round"/><path d="M516.5 710 C518.5 707 520 708 520 711 L519.5 724 C519 727 516.5 727.5 516 724Z" fill="#fff" stroke="#222" stroke-width="0.8" stroke-linejoin="round"/><path d="M517.5 711L518.2 724" stroke="#222" stroke-width="0.6" stroke-linecap="round"/><path d="M543.5 728 L549.5 727 L551 733 L547 736 L543 734.5Z" fill="#fff" stroke="#222" stroke-width="0.8" stroke-linejoin="round"/><path d="M545 730L549 731" stroke="#222" stroke-width="0.6" stroke-linecap="round"/><path d="M546.5 729L546.5 734" stroke="#222" stroke-width="0.6" stroke-linecap="round"/><path d="M567.5 741.5L578.5 749.5" stroke="#222" stroke-width="2.0" stroke-linecap="round"/><circle cx="578.3" cy="749.3" r="1.4" fill="#111"/><path d="M492.3 104.69L631.3 180.69A1.25 2.5 28.67 0 0 633.7 176.31L494.7 100.31A1.25 2.5 28.67 0 0 492.3 104.69Z" fill="#fff" stroke="#222" stroke-width="0.9"/><ellipse cx="632.5" cy="178.5" rx="1.25" ry="2.5" transform="rotate(28.67 632.5 178.5)" fill="#fff" stroke="#222" stroke-width="0.9"/><path d="M490.2 103.77L497.7 107.87A1.35 2.7 28.66 0 0 500.3 103.13L492.8 99.03A1.35 2.7 28.66 0 0 490.2 103.77Z" fill="#fff" stroke="#222" stroke-width="0.9"/><ellipse cx="499" cy="105.5" rx="1.35" ry="2.7" transform="rotate(28.66 499 105.5)" fill="#fff" stroke="#222" stroke-width="0.9"/><path d="M492.5 99.6l-1.2 2.4M493.6 100.2l-1.2 2.4M494.6 100.8l-1.2 2.4M495.6 101.3l-1.2 2.4M496.7 101.9l-1.2 2.4M497.8 102.5l-1.2 2.4M498.8 103.1l-1.2 2.4" stroke="#333" stroke-width="0.6"/><path d="M509 109.5L508 114" stroke="#222" stroke-width="0.7" stroke-linecap="round"/><path d="M607.52 168.03L631.52 181.03A1.55 3.1 28.44 0 0 634.48 175.57L610.48 162.57A1.55 3.1 28.44 0 0 607.52 168.03Z" fill="#fff" stroke="#222" stroke-width="0.9"/><ellipse cx="633" cy="178.3" rx="1.55" ry="3.1" transform="rotate(28.44 633 178.3)" fill="#fff" stroke="#222" stroke-width="0.9"/><path d="M604.9 166.88L609.4 169.38A1.65 3.3 29.05 0 0 612.6 163.62L608.1 161.12A1.65 3.3 29.05 0 0 604.9 166.88Z" fill="#333" stroke="#222" stroke-width="0.8"/><ellipse cx="611" cy="166.5" rx="1.65" ry="3.3" transform="rotate(29.05 611 166.5)" fill="#666" stroke="#222" stroke-width="0.8"/><ellipse cx="621.5" cy="172.6" rx="1.4" ry="3.1" transform="rotate(28 621.5 172.6)" fill="none" stroke="#222" stroke-width="0.8"/><ellipse cx="624" cy="174" rx="1.4" ry="3.1" transform="rotate(28 624 174)" fill="none" stroke="#222" stroke-width="0.8"/><ellipse cx="633" cy="178.3" rx="1.5" ry="2.7" transform="rotate(28 633 178.3)" fill="#fff" stroke="#222" stroke-width="0.9"/><path d="M625.8 162.5L627.3 161.3" stroke="#222" stroke-width="1.2" stroke-linecap="round"/><path d="M630.5 163.3L642 169" stroke="#222" stroke-width="1.5" stroke-linecap="round"/><ellipse cx="643.6" cy="183.3" rx="1.2" ry="1.4" transform="rotate(0 643.6 183.3)" fill="none" stroke="#222" stroke-width="1.0"/><ellipse cx="653.1" cy="188.4" rx="1.6" ry="2.3" transform="rotate(25 653.1 188.4)" fill="none" stroke="#222" stroke-width="1.2"/><ellipse cx="663.8" cy="194" rx="1.6" ry="2.3" transform="rotate(25 663.8 194)" fill="none" stroke="#222" stroke-width="1.2"/><path d="M655.24 177.91L671.24 186.61A0.8 1.6 28.54 0 0 672.76 183.79L656.76 175.09A0.8 1.6 28.54 0 0 655.24 177.91Z" fill="#fff" stroke="#222" stroke-width="0.8"/><ellipse cx="672" cy="185.2" rx="0.8" ry="1.6" transform="rotate(28.54 672 185.2)" fill="#fff" stroke="#222" stroke-width="0.8"/><path d="M666 182 L673.5 186 L670 185.5Z" fill="#222" stroke="#222" stroke-width="0.6" stroke-linejoin="round"/><path d="M669.6 175.8L674.4 172.3" stroke="#222" stroke-width="2.0" stroke-linecap="round"/><ellipse cx="684.5" cy="167.5" rx="1.9" ry="1.9" transform="rotate(0 684.5 167.5)" fill="none" stroke="#222" stroke-width="0.9"/><path d="M685.5 177.8 h3 v1 h-1 v3 h-1 v-3 h-1Z" fill="#111" stroke="#222" stroke-width="0.4" stroke-linejoin="round"/><rect x="697.7" y="182.5" width="1.8" height="3" fill="#111"/><rect x="706.3" y="186.5" width="1.9" height="3.6" fill="#111"/><circle cx="728.9" cy="190.1" r="6.8" fill="#222" stroke="#111" stroke-width="1.5" stroke-dasharray="1.2 0.8"/><ellipse cx="729.8" cy="190.5" rx="2.6" ry="3.2" transform="rotate(20 729.8 190.5)" fill="#444" stroke="#aaa" stroke-width="0.8"/><ellipse cx="742.2" cy="198.1" rx="4.6" ry="6.4" transform="rotate(25 742.2 198.1)" fill="none" stroke="#222" stroke-width="1.5"/><path d="M637.6 206.5 L640 204.6 L646 208 L649.5 210.5 L650 214.3 L647 215 L644.5 213.5 L639 209.8Z" fill="#fff" stroke="#222" stroke-width="1.1" stroke-linejoin="round"/><ellipse cx="646.8" cy="212.2" rx="1.4" ry="1.4" transform="rotate(0 646.8 212.2)" fill="none" stroke="#222" stroke-width="0.9"/><path d="M640.2 206.5L645 209.5" stroke="#222" stroke-width="1.6" stroke-linecap="round"/><ellipse cx="637.8" cy="216.9" rx="2.6" ry="2" transform="rotate(-25 637.8 216.9)" fill="#fff" stroke="#222" stroke-width="0.9"/><ellipse cx="636.6" cy="217.5" rx="1.1" ry="1.4" transform="rotate(0 636.6 217.5)" fill="none" stroke="#222" stroke-width="0.6"/><circle cx="630.3" cy="221" r="3" fill="#111"/><path d="M575 214.2 L581.5 217 L582.7 218.3" fill="none" stroke="#222" stroke-width="1.0" stroke-linejoin="round"/><path d="M585.5 215 L587.5 218.3 L589.7 215.3 M587.5 218.3 L586 221.8" fill="none" stroke="#222" stroke-width="1.0" stroke-linejoin="round"/><path d="M603.8 224.5 L606 224.2 L609.8 227.2 L608.5 229.6 L605.5 228.8Z" fill="#fff" stroke="#222" stroke-width="1.0" stroke-linejoin="round"/><circle cx="605.5" cy="225.8" r="0.7" fill="#333"/><path d="M589.3 227.5 C589 226 590.3 225.5 591.5 226.4 L633.8 249.5 C636.5 251.5 637.8 255 637.5 258.2 C637 259.8 635 259.8 633.5 259.3 L592 236.8 C590.5 235.5 589.5 231 589.3 227.5Z" fill="#fff" stroke="#222" stroke-width="1.2" stroke-linejoin="round"/><path d="M592.5 230 L610.5 239.8 L611 246 L593.5 236.3Z" fill="#fff" stroke="#222" stroke-width="1.0" stroke-linejoin="round"/><path d="M613 241 L632 251.5 L634 256.5 L614 246.5Z" fill="#fff" stroke="#222" stroke-width="1.0" stroke-linejoin="round"/><path d="M590.5 227.8L633 250.5" stroke="#222" stroke-width="1.5" stroke-linecap="round"/><path d="M593.5 231.5L609.5 240.5" stroke="#222" stroke-width="0.6" stroke-linecap="round"/><path d="M614.5 242.5L631.5 252" stroke="#222" stroke-width="0.6" stroke-linecap="round"/><circle cx="592" cy="229" r="1.1" fill="#222"/><circle cx="634.5" cy="256.8" r="1" fill="#222"/><path d="M583.1 244.9 l2.6 -1.4 l0.9 1.2 l-2.6 1.6Z" fill="#111" stroke="#222" stroke-width="0.6" stroke-linejoin="round"/><path d="M600.5 253.9 l2.6 -1.4 l0.9 1.2 l-2.6 1.6Z" fill="#111" stroke="#222" stroke-width="0.6" stroke-linejoin="round"/><path d="M619.4 262.7 l2.6 -1.4 l0.9 1.2 l-2.6 1.6Z" fill="#111" stroke="#222" stroke-width="0.6" stroke-linejoin="round"/><path d="M681.7 222.5 L683.5 221.5 L699 229.5 L699.6 234 L697 236 L692 233.3 L692 238.5 L688.5 238.8 L688.5 231.5 L683 228.5Z" fill="#fff" stroke="#222" stroke-width="1.2" stroke-linejoin="round"/><path d="M684 225L697 232" stroke="#222" stroke-width="0.6" stroke-linecap="round"/><path d="M702.42 236.46L711.42 240.96A0.65 1.3 26.57 0 0 712.58 238.64L703.58 234.14A0.65 1.3 26.57 0 0 702.42 236.46Z" fill="#fff" stroke="#222" stroke-width="0.8"/><ellipse cx="712" cy="239.8" rx="0.65" ry="1.3" transform="rotate(26.57 712 239.8)" fill="#fff" stroke="#222" stroke-width="0.8"/><path d="M715.42 243.99L728.22 251.19A0.72 1.6 29.36 0 0 729.78 248.41L716.98 241.21A0.72 1.6 29.36 0 0 715.42 243.99Z" fill="#222" stroke="#222" stroke-width="0.8"/><ellipse cx="729" cy="249.8" rx="0.72" ry="1.6" transform="rotate(29.36 729 249.8)" fill="#555" stroke="#222" stroke-width="0.8"/><path d="M717.43 244.76L717.81 242.04" stroke="#aaa" stroke-width="0.35"/><path d="M718.85 245.56L719.24 242.84" stroke="#aaa" stroke-width="0.35"/><path d="M720.27 246.36L720.66 243.64" stroke="#aaa" stroke-width="0.35"/><path d="M721.7 247.16L722.08 244.44" stroke="#aaa" stroke-width="0.35"/><path d="M723.12 247.96L723.5 245.24" stroke="#aaa" stroke-width="0.35"/><path d="M724.54 248.76L724.93 246.04" stroke="#aaa" stroke-width="0.35"/><path d="M725.96 249.56L726.35 246.84" stroke="#aaa" stroke-width="0.35"/><path d="M727.39 250.36L727.77 247.64" stroke="#aaa" stroke-width="0.35"/><path d="M706 267L709.5 265" stroke="#222" stroke-width="1.3" stroke-linecap="round"/><path d="M712.5 254 L715 252.5 L727 258.5 L729 262 L726 262.3 L722 259 L714 256.5Z" fill="#fff" stroke="#222" stroke-width="0.9" stroke-linejoin="round"/><path d="M715 254.5L726 260" stroke="#222" stroke-width="1.5" stroke-linecap="round"/><circle cx="726.3" cy="269.3" r="0.8" fill="#111"/><circle cx="753.75" cy="251.3" r="1.7" fill="#111"/><path d="M678 189.1 L681.2 188.6 L756 230.4 C758.5 231.5 760 233.5 760.2 236 L760 239.5 C759 242.5 756 245 752.5 245.8 L750.1 245.8 L673.3 202.9 C671.5 201.5 671.3 198 671.7 196.5 C672.5 193 675 190.5 678 189.1Z" fill="#fff" stroke="#222" stroke-width="1.0" stroke-linejoin="round"/><path d="M693 195.4 L756 230.4 L754.6 234.3 L691.3 199.1Z" fill="#111" stroke="#222" stroke-width="0.5" stroke-linejoin="round"/><path d="M704 203.5 L754.6 231.8 L753.2 235.6 L703 207Z" fill="#111" stroke="#222" stroke-width="0.4" stroke-linejoin="round"/><path d="M705 204.6 L754 232" stroke="#fff" stroke-width="0.5"/><path d="M675 192 L693 201.8 L692.5 203.5 L674 193.5Z" fill="#222" stroke="#222" stroke-width="0.3" stroke-linejoin="round"/><path d="M673.8 197.5L749.5 240.3" stroke="#222" stroke-width="0.7" stroke-linecap="round"/><path d="M750 241L750.5 245.5" stroke="#222" stroke-width="0.8" stroke-linecap="round"/><path d="M702.5 203.5 C704.5 202 707 203 708 205.5 L709 218 C708 220 705.5 220 704 218.5Z" fill="#fff" stroke="#222" stroke-width="0.9" stroke-linejoin="round"/><path d="M713.5 222 L731 231.5 L730 234 L712.5 225Z" fill="#666" stroke="#222" stroke-width="0.7" stroke-linejoin="round"/><path d="M716 222 L722 225.2 L721.5 227 L715.6 223.8Z" fill="#fff" stroke="#222" stroke-width="0.4" stroke-linejoin="round"/><path d="M705 214 L711 217 L711 221 L705 218Z" fill="#333" stroke="#222" stroke-width="0.4" stroke-linejoin="round"/><ellipse cx="682" cy="193.2" rx="1.2" ry="0.6" transform="rotate(28 682 193.2)" fill="none" stroke="#222" stroke-width="0.8"/><ellipse cx="690" cy="197.5" rx="1.2" ry="0.6" transform="rotate(28 690 197.5)" fill="none" stroke="#222" stroke-width="0.8"/><ellipse cx="755.6" cy="239.3" rx="1.8" ry="2.4" transform="rotate(20 755.6 239.3)" fill="#fff" stroke="#222" stroke-width="0.8"/><path d="M752.5 231.5 C756 232 758.5 234 759 237" fill="none" stroke="#222" stroke-width="0.6" stroke-linejoin="round"/><path d="M760.09 243.59L770.74 248.59A0.72 1.2 25.15 0 0 771.76 246.41L761.11 241.41A0.72 1.2 25.15 0 0 760.09 243.59Z" fill="#fff" stroke="#222" stroke-width="0.8"/><path d="M769.76 249.87L784.76 259.27A1.26 2.8 32.07 0 0 787.74 254.53L772.74 245.13A1.26 2.8 32.07 0 0 769.76 249.87Z" fill="#fff" stroke="#222" stroke-width="0.8"/><ellipse cx="786.25" cy="256.9" rx="1.26" ry="2.8" transform="rotate(32.07 786.25 256.9)" fill="#fff" stroke="#222" stroke-width="0.8"/><path d="M777.5 249.5L776.5 253.5" stroke="#222" stroke-width="0.6" stroke-linecap="round"/><path d="M778 259.5 L781.5 257.8 L782 259 L778.5 260.6Z" fill="#222" stroke="#222" stroke-width="0.5" stroke-linejoin="round"/><path d="M791.6 262.11L804.7 267.71A1.03 2.3 23.15 0 0 806.5 263.49L793.4 257.89A1.03 2.3 23.15 0 0 791.6 262.11Z" fill="#222" stroke="#222" stroke-width="0.8"/><ellipse cx="805.6" cy="265.6" rx="1.03" ry="2.3" transform="rotate(23.15 805.6 265.6)" fill="#555" stroke="#222" stroke-width="0.8"/><path d="M793.87 262.59L794.4 258.81" stroke="#aaa" stroke-width="0.35"/><path d="M795.51 263.29L796.04 259.51" stroke="#aaa" stroke-width="0.35"/><path d="M797.15 263.99L797.68 260.21" stroke="#aaa" stroke-width="0.35"/><path d="M798.79 264.69L799.31 260.91" stroke="#aaa" stroke-width="0.35"/><path d="M800.42 265.39L800.95 261.61" stroke="#aaa" stroke-width="0.35"/><path d="M802.06 266.09L802.59 262.31" stroke="#aaa" stroke-width="0.35"/><path d="M803.7 266.79L804.23 263.01" stroke="#aaa" stroke-width="0.35"/><path d="M806.8 271.88L851.8 295.58A1.26 2.8 27.77 0 0 854.4 290.62L809.4 266.92A1.26 2.8 27.77 0 0 806.8 271.88Z" fill="#fff" stroke="#222" stroke-width="0.8"/><ellipse cx="853.1" cy="293.1" rx="1.26" ry="2.8" transform="rotate(27.77 853.1 293.1)" fill="#fff" stroke="#222" stroke-width="0.8"/><path d="M811 268.4L810.5 273.5" stroke="#222" stroke-width="0.6" stroke-linecap="round"/><path d="M813 269.4L812.5 274.5" stroke="#222" stroke-width="0.6" stroke-linecap="round"/><path d="M829.5 280 L834 281.5 L833 285 L829 283.5" fill="none" stroke="#222" stroke-width="0.6" stroke-linejoin="round"/><path d="M866.8 298.8 C870 298.5 873 300 876 301 C880 301.3 884 298.5 887.3 295.5 C888 293.2 891 293 893 293.4 C896 294.3 896.5 298.5 894.5 300.8 C893 302.5 889.5 302.3 887.5 301 C883 302 878 304.5 873.5 306.3 C871.5 308 868 308 865.5 307 C862.5 305.5 862.5 301 866.8 298.8Z" fill="#fff" stroke="#222" stroke-width="0.9" stroke-linejoin="round"/><circle cx="864.7" cy="305" r="0.8" fill="#333"/><path d="M856 317.2L858 315" stroke="#222" stroke-width="1.6" stroke-linecap="round"/><ellipse cx="771.9" cy="267" rx="1.6" ry="1.4" transform="rotate(0 771.9 267)" fill="none" stroke="#222" stroke-width="1.0"/><path d="M771.9 277.5L771.9 284" stroke="#222" stroke-width="2.0" stroke-linecap="round"/><ellipse cx="771.9" cy="276.2" rx="1.7" ry="1.3" transform="rotate(0 771.9 276.2)" fill="#fff" stroke="#222" stroke-width="0.9"/><ellipse cx="976.4" cy="37.7" rx="6.9" ry="5.2" fill="#222" stroke="#111" stroke-width="1.0" stroke-dasharray="1.1 0.8"/><ellipse cx="976.4" cy="37.7" rx="4.4" ry="3.2" fill="#fff"/><ellipse cx="976.4" cy="37.7" rx="3.6" ry="2.5" fill="none" stroke="#333" stroke-width="1.4" stroke-dasharray="0.8 1.2"/><ellipse cx="976.4" cy="37.7" rx="1.6" ry="1.1" fill="#fff" stroke="#666" stroke-width="0.4"/><path d="M959.2 58.9 L968.9 54.5 L990.9 63.9 L994.1 69.1 L983.1 76.8 L959.8 62.8Z" fill="#fff" stroke="#222" stroke-width="1.0" stroke-linejoin="round"/><path d="M959.5 60 L969 55.8 L991 65 M960 62.5 L983 76" fill="none" stroke="#222" stroke-width="0.6" stroke-linejoin="round"/><path d="M969.5 59.6 L975 58.3 L979 63 L973.5 64.5Z" fill="#fff" stroke="#222" stroke-width="0.8" stroke-linejoin="round"/><path d="M971 60.3 L975 59.5 L977 62.3 L973 63.2Z" fill="#555" stroke="#222" stroke-width="0.4" stroke-linejoin="round"/><path d="M982 70 L990.5 65.5 L994 69.5 L984 76Z" fill="#fff" stroke="#222" stroke-width="0.9" stroke-linejoin="round"/><path d="M983.5 72L991.5 67" stroke="#222" stroke-width="1.3" stroke-linecap="round"/><path d="M985 74.2L992.8 69.3" stroke="#222" stroke-width="0.8" stroke-linecap="round"/><path d="M1013 56.5L1022.8 51.5" stroke="#222" stroke-width="2.0" stroke-linecap="round"/><ellipse cx="1025.2" cy="50.2" rx="2.6" ry="3" transform="rotate(20 1025.2 50.2)" fill="#333" stroke="#111" stroke-width="1.0"/><ellipse cx="1025.2" cy="50.2" rx="3.1" ry="3.5" fill="none" stroke="#111" stroke-width="0.8" stroke-dasharray="0.7 0.6"/><circle cx="1026" cy="50" r="0.9" fill="#888"/><circle cx="999.7" cy="63.6" r="0.8" fill="#111"/><path d="M1005.36 75.37L1010.36 72.27A0.99 2.2 -31.8 0 0 1008.04 68.53L1003.04 71.63A0.99 2.2 -31.8 0 0 1005.36 75.37Z" fill="#222" stroke="#222" stroke-width="0.8"/><ellipse cx="1009.2" cy="70.4" rx="0.99" ry="2.2" transform="rotate(-31.8 1009.2 70.4)" fill="#555" stroke="#222" stroke-width="0.8"/><path d="M1007.22 73.7L1004.51 71.23" stroke="#aaa" stroke-width="0.35"/><path d="M1008.89 72.67L1006.18 70.2" stroke="#aaa" stroke-width="0.35"/><path d="M939.6 74.84L948.6 69.64A0.6 1.2 -30.02 0 0 947.4 67.56L938.4 72.76A0.6 1.2 -30.02 0 0 939.6 74.84Z" fill="#888" stroke="#222" stroke-width="0.8"/><ellipse cx="948" cy="68.6" rx="0.6" ry="1.2" transform="rotate(-30.02 948 68.6)" fill="#fff" stroke="#222" stroke-width="0.8"/><path d="M946.68 95.56L952.18 92.06A0.99 2.2 -32.47 0 0 949.82 88.34L944.32 91.84A0.99 2.2 -32.47 0 0 946.68 95.56Z" fill="#222" stroke="#222" stroke-width="0.8"/><ellipse cx="951" cy="90.2" rx="0.99" ry="2.2" transform="rotate(-32.47 951 90.2)" fill="#555" stroke="#222" stroke-width="0.8"/><path d="M948.24 94.04L945.51 91.61" stroke="#aaa" stroke-width="0.35"/><path d="M949.62 93.17L946.88 90.73" stroke="#aaa" stroke-width="0.35"/><path d="M950.99 92.29L948.26 89.86" stroke="#aaa" stroke-width="0.35"/><ellipse cx="969.6" cy="94.3" rx="2.3" ry="2.3" transform="rotate(0 969.6 94.3)" fill="#555" stroke="#222" stroke-width="1.2"/><ellipse cx="979.6" cy="99.9" rx="2.4" ry="2.4" transform="rotate(0 979.6 99.9)" fill="#333" stroke="#222" stroke-width="1.2"/><path d="M961 103.5 C960.5 101.5 962 101 964 101.8 L985 112 C987 113.5 987 116.5 985 118.5 L983 119.4 C981 119.8 979.5 119 978 118.3 L962 109 C960.5 107.5 961 105 961 103.5Z" fill="#fff" stroke="#222" stroke-width="0.9" stroke-linejoin="round"/><path d="M963 104.5 L984 114.5 L982.5 116.5 L962.5 107.5Z" fill="#fff" stroke="#222" stroke-width="0.6" stroke-linejoin="round"/><ellipse cx="966" cy="105.5" rx="1.6" ry="1.1" transform="rotate(25 966 105.5)" fill="#fff" stroke="#222" stroke-width="0.8"/><ellipse cx="970.5" cy="108" rx="1.6" ry="1.1" transform="rotate(25 970.5 108)" fill="#fff" stroke="#222" stroke-width="0.8"/><ellipse cx="975" cy="110.5" rx="1.6" ry="1.1" transform="rotate(25 975 110.5)" fill="#fff" stroke="#222" stroke-width="0.8"/><ellipse cx="979.5" cy="112.8" rx="1.6" ry="1.1" transform="rotate(25 979.5 112.8)" fill="#fff" stroke="#222" stroke-width="0.8"/><path d="M971 124 L975 122.8 L978.6 125 L978 129 L973.5 130 L970.8 127.5Z" fill="#fff" stroke="#222" stroke-width="0.9" stroke-linejoin="round"/><path d="M973 125L976.5 126" stroke="#222" stroke-width="0.8" stroke-linecap="round"/><path d="M913 104.5 L922.5 98.8 L928.8 101.5 L928 106 L918 111.3 L913 108.5Z" fill="#fff" stroke="#222" stroke-width="0.9" stroke-linejoin="round"/><path d="M916 104 L923 100.5 L926 102 L919 106Z" fill="#333" stroke="#222" stroke-width="0.5" stroke-linejoin="round"/><circle cx="898" cy="107.6" r="1.6" fill="#222"/><circle cx="898.5" cy="107.2" r="0.6" fill="#888"/><path d="M1020.5 213 C1020.5 210.5 1022 209.8 1023.5 209.8 C1025.5 210 1026.5 211 1026.6 213 L1026.9 231.3 L1030.3 231.9 L1030.6 235.2 L1028.6 238.6 L1024.7 240.3 L1018 236.3 L1017.4 233.5 L1020.5 231.9Z" fill="#fff" stroke="#222" stroke-width="0.9" stroke-linejoin="round"/><path d="M1023.5 212.5L1024.2 230.5" stroke="#222" stroke-width="0.6" stroke-linecap="round"/><circle cx="1023.6" cy="225.5" r="0.9" fill="#333"/><path d="M1027 232L1027.5 238" stroke="#222" stroke-width="0.6" stroke-linecap="round"/><path d="M1034.7 250.9 C1035.5 247 1037.5 245 1039.8 243.6 L1051 238.6 L1053.2 241.9 L1057.7 242.5 L1061.6 249.2 L1047.6 257.6 L1046.5 259.9 L1040.9 262.7 L1035.9 256.5Z" fill="#fff" stroke="#222" stroke-width="0.9" stroke-linejoin="round"/><ellipse cx="1038.6" cy="253.5" rx="1.2" ry="2.2" transform="rotate(-10 1038.6 253.5)" fill="none" stroke="#222" stroke-width="0.7"/><path d="M1050 248 L1056.5 244.5 L1058 246.5 L1051.5 250Z" fill="#fff" stroke="#222" stroke-width="0.7" stroke-linejoin="round"/><ellipse cx="1073.4" cy="264.9" rx="2.7" ry="2.4" transform="rotate(0 1073.4 264.9)" fill="none" stroke="#222" stroke-width="1.0"/><path d="M1065 267.1L1077.8 258.7" stroke="#222" stroke-width="1.0" stroke-linecap="round"/><path d="M1047.7 297.3 L1052.7 289.8 L1054.3 284.9 L1060.9 282.4 L1070.8 279.1 L1079.1 277.5 L1080.7 279.9 L1071.6 287.4 L1064.2 290.7 L1057.6 291.5 L1056.8 296.4 L1051 299.7Z" fill="#fff" stroke="#222" stroke-width="0.9" stroke-linejoin="round"/><ellipse cx="1056.8" cy="287.6" rx="2.1" ry="1.4" transform="rotate(-20 1056.8 287.6)" fill="none" stroke="#222" stroke-width="0.8"/><path d="M1013.64 297.32L1018.74 300.32A0.65 1.3 30.47 0 0 1020.06 298.08L1014.96 295.08A0.65 1.3 30.47 0 0 1013.64 297.32Z" fill="#999" stroke="#222" stroke-width="0.8"/><ellipse cx="1019.4" cy="299.2" rx="0.65" ry="1.3" transform="rotate(30.47 1019.4 299.2)" fill="#fff" stroke="#222" stroke-width="0.8"/><path d="M1010.32 321.11L1015.52 324.31A0.65 1.3 31.61 0 0 1016.88 322.09L1011.68 318.89A0.65 1.3 31.61 0 0 1010.32 321.11Z" fill="#999" stroke="#222" stroke-width="0.8"/><ellipse cx="1016.2" cy="323.2" rx="0.65" ry="1.3" transform="rotate(31.61 1016.2 323.2)" fill="#fff" stroke="#222" stroke-width="0.8"/><path d="M1022 305 C1022.5 303 1025 303 1027.5 303.3 L1032.6 304.5 L1032 308 L1030.5 309.5 L1031 314 L1029 314.5 L1028 317.9 L1025.5 317 L1024.5 311.5 L1022 309Z" fill="#fff" stroke="#222" stroke-width="0.9" stroke-linejoin="round"/><ellipse cx="1025.2" cy="306" rx="1.2" ry="1.2" transform="rotate(0 1025.2 306)" fill="none" stroke="#222" stroke-width="0.7"/><ellipse cx="1028" cy="331" rx="1.3" ry="1.3" transform="rotate(0 1028 331)" fill="none" stroke="#222" stroke-width="0.9"/><path d="M1025.5 332L1033.5 324.5" stroke="#222" stroke-width="0.9" stroke-linecap="round"/><path d="M1028 331.5L1034.5 337" stroke="#222" stroke-width="0.9" stroke-linecap="round"/><path d="M1037.5 341.5 L1041 339.5 L1047 339 L1058 330.5 L1061 328 L1062.6 331 L1053 340 L1044 344 L1039 346.7Z" fill="#fff" stroke="#222" stroke-width="0.9" stroke-linejoin="round"/><ellipse cx="1046.5" cy="340.8" rx="1.3" ry="1.1" transform="rotate(0 1046.5 340.8)" fill="none" stroke="#222" stroke-width="0.7"/><path d="M1000.37 342.14L1009.37 347.14A0.65 1.3 29.05 0 0 1010.63 344.86L1001.63 339.86A0.65 1.3 29.05 0 0 1000.37 342.14Z" fill="#fff" stroke="#222" stroke-width="0.8"/><ellipse cx="1010" cy="346" rx="0.65" ry="1.3" transform="rotate(29.05 1010 346)" fill="#fff" stroke="#222" stroke-width="0.8"/><path d="M1013.1 374 L1019 369.5 L1019 367 L1034 361 L1046 360.7 L1048.6 364 L1048 375 L1043 379 L1043 384 L1037 386 L1036 392 L1023 393.7 L1013.5 389.5Z" fill="#fff" stroke="#222" stroke-width="0.9" stroke-linejoin="round"/><path d="M1013.1 374 L1020 377.5 L1020.5 393 M1020 377.5 L1030 372 L1048 364" fill="none" stroke="#222" stroke-width="0.7" stroke-linejoin="round"/><path d="M1016 376 L1017.5 376.5 L1017.5 390 L1016 389.5Z" fill="#fff" stroke="#222" stroke-width="0.6" stroke-linejoin="round"/><path d="M1022 368 L1033 363 L1035 366 L1024 371Z" fill="#fff" stroke="#222" stroke-width="0.7" stroke-linejoin="round"/><path d="M1034 365 L1045 361.5 L1046.5 364 L1036 368Z" fill="#fff" stroke="#222" stroke-width="0.7" stroke-linejoin="round"/><path d="M1029 379L1041 373" stroke="#222" stroke-width="0.8" stroke-linecap="round"/><ellipse cx="1040.5" cy="380" rx="1.1" ry="1.1" transform="rotate(0 1040.5 380)" fill="none" stroke="#222" stroke-width="0.6"/><path d="M1057.35 393.51L1071.35 402.51A0.6 1.2 32.74 0 0 1072.65 400.49L1058.65 391.49A0.6 1.2 32.74 0 0 1057.35 393.51Z" fill="#fff" stroke="#222" stroke-width="0.8"/><ellipse cx="1072" cy="401.5" rx="0.6" ry="1.2" transform="rotate(32.74 1072 401.5)" fill="#fff" stroke="#222" stroke-width="0.8"/><path d="M1045.18 399.33L1059.88 408.23A0.6 1.2 31.19 0 0 1061.12 406.17L1046.42 397.27A0.6 1.2 31.19 0 0 1045.18 399.33Z" fill="#fff" stroke="#222" stroke-width="0.8"/><ellipse cx="1060.5" cy="407.2" rx="0.6" ry="1.2" transform="rotate(31.19 1060.5 407.2)" fill="#fff" stroke="#222" stroke-width="0.8"/><rect x="1024.6" y="405.8" width="3.2" height="7.2" rx="1.3" fill="#222"/><rect x="1023.2" y="421" width="4.3" height="8" rx="1.2" fill="#222"/><path d="M1023.5 424L1027 424" stroke="#888" stroke-width="0.5" stroke-linecap="round"/><path d="M1008.89 442.15L1017.59 446.75A0.65 1.3 27.87 0 0 1018.81 444.45L1010.11 439.85A0.65 1.3 27.87 0 0 1008.89 442.15Z" fill="#fff" stroke="#222" stroke-width="0.8"/><ellipse cx="1018.2" cy="445.6" rx="0.65" ry="1.3" transform="rotate(27.87 1018.2 445.6)" fill="#fff" stroke="#222" stroke-width="0.8"/><path d="M990 473.6 L1001.2 465.8 L1008 459.5 L1010.6 455.5 L1008 452" fill="none" stroke="#222" stroke-width="1.4" stroke-linejoin="round"/><path d="M1024.36 463.7L1045.36 453.1A1.14 1.9 -26.78 0 0 1043.64 449.7L1022.64 460.3A1.14 1.9 -26.78 0 0 1024.36 463.7Z" fill="#fff" stroke="#222" stroke-width="1.1"/><ellipse cx="1044.5" cy="451.4" rx="1.14" ry="1.9" transform="rotate(-26.78 1044.5 451.4)" fill="#fff" stroke="#222" stroke-width="1.1"/><path d="M1031.97 468.64L1051.47 457.14A1.14 1.9 -30.53 0 0 1049.53 453.86L1030.03 465.36A1.14 1.9 -30.53 0 0 1031.97 468.64Z" fill="#fff" stroke="#222" stroke-width="1.1"/><ellipse cx="1050.5" cy="455.5" rx="1.14" ry="1.9" transform="rotate(-30.53 1050.5 455.5)" fill="#fff" stroke="#222" stroke-width="1.1"/><path d="M1034 455L1037 458.5" stroke="#222" stroke-width="0.6" stroke-linecap="round"/><path d="M1038 453.5L1040.5 456.5" stroke="#222" stroke-width="0.6" stroke-linecap="round"/><path d="M1022.5 480.5 L1024 476.5 L1034 474.8 L1037.5 477 L1037 481.5 L1028 485.5 C1024.5 490 1023.5 498 1024.3 505 C1024.5 507.5 1023 509 1022.2 508.5 C1019.5 504 1019.3 496 1020.8 489 C1021.5 486 1022.5 483 1022.5 480.5Z" fill="#fff" stroke="#222" stroke-width="0.9" stroke-linejoin="round"/><path d="M1024.5 477.5L1036 476.5" stroke="#222" stroke-width="0.6" stroke-linecap="round"/><circle cx="1027" cy="478.3" r="0.6" fill="#333"/><circle cx="1031.5" cy="477.8" r="0.6" fill="#333"/><ellipse cx="1041.7" cy="498.3" rx="0.9" ry="0.9" transform="rotate(0 1041.7 498.3)" fill="none" stroke="#222" stroke-width="0.8"/><rect x="1041.2" y="522" width="1.7" height="8" fill="#111"/><rect x="1029.9" y="532" width="1.7" height="8" fill="#111"/><ellipse cx="826.7" cy="537.6" rx="1.4" ry="0.9" transform="rotate(0 826.7 537.6)" fill="none" stroke="#222" stroke-width="0.9"/><path d="M825.2 539.5 L828.2 539.5 L828.4 543 L825 543Z" fill="#fff" stroke="#222" stroke-width="0.9" stroke-linejoin="round"/><ellipse cx="826.7" cy="545.6" rx="1.4" ry="0.9" transform="rotate(0 826.7 545.6)" fill="none" stroke="#222" stroke-width="0.9"/><path d="M817.69 560.75L831.19 567.35A3.52 6.4 26.05 0 0 836.81 555.85L823.31 549.25A3.52 6.4 26.05 0 0 817.69 560.75Z" fill="#fff" stroke="#222" stroke-width="0.8"/><ellipse cx="834" cy="561.6" rx="3.52" ry="6.4" transform="rotate(26.05 834 561.6)" fill="#fff" stroke="#222" stroke-width="0.8"/><ellipse cx="834" cy="561.6" rx="1.8" ry="2.6" transform="rotate(25 834 561.6)" fill="none" stroke="#222" stroke-width="0.8"/><circle cx="826" cy="550.5" r="0.7" fill="#333"/><path d="M829 552L830.5 553.5" stroke="#222" stroke-width="0.6" stroke-linecap="round"/><path d="M840.69 572.55L906.69 605.95A3.6 6 26.84 0 0 912.11 595.25L846.11 561.85A3.6 6 26.84 0 0 840.69 572.55Z" fill="#fff" stroke="#222" stroke-width="0.8"/><ellipse cx="909.4" cy="600.6" rx="3.6" ry="6" transform="rotate(26.84 909.4 600.6)" fill="none" stroke="#222" stroke-width="0.8"/><path d="M909.4 600.6 m-2 -6.4 C913.5 595.5 914 602 911.5 605.5" fill="none" stroke="#222" stroke-width="1.4" stroke-linejoin="round"/><path d="M861 570.5 L899.5 588.4 L898.8 590.5 L860.3 572.5Z" fill="#fff" stroke="#222" stroke-width="0.8" stroke-linejoin="round"/><path d="M861 571.5L899 589.5" stroke="#222" stroke-width="1.4" stroke-linecap="round"/><path d="M863 576 L868 578.2 L867.6 579.5 L862.6 577.3Z" fill="#555" stroke="#222" stroke-width="0.4" stroke-linejoin="round"/><path d="M894 594.5L901 597.5" stroke="#222" stroke-width="1.2" stroke-linecap="round"/><path d="M893 592.5L897 594" stroke="#222" stroke-width="0.6" stroke-linecap="round"/><circle cx="851" cy="563" r="0.7" fill="#222"/><circle cx="855.5" cy="566" r="0.6" fill="#222"/><path d="M901.34 581.02L909.24 579.02A1.17 2.6 -14.21 0 0 907.96 573.98L900.06 575.98A1.17 2.6 -14.21 0 0 901.34 581.02Z" fill="#222" stroke="#222" stroke-width="0.8"/><ellipse cx="908.6" cy="576.5" rx="1.17" ry="2.6" transform="rotate(-14.21 908.6 576.5)" fill="#555" stroke="#222" stroke-width="0.8"/><path d="M903.28 579.99L901.28 576.21" stroke="#aaa" stroke-width="0.35"/><path d="M904.86 579.59L902.86 575.81" stroke="#aaa" stroke-width="0.35"/><path d="M906.44 579.19L904.44 575.41" stroke="#aaa" stroke-width="0.35"/><path d="M908.02 578.79L906.02 575.01" stroke="#aaa" stroke-width="0.35"/><path d="M849.1 587.8 L851.3 587.8 L851.3 591 L849.1 591Z" fill="#222" stroke="#222" stroke-width="0.6" stroke-linejoin="round"/><path d="M848.2 591.3 L852.2 591.3 L852.2 595.5 L850.9 597.5 L849.5 597.5 L848.2 595.5Z" fill="#fff" stroke="#222" stroke-width="1.0" stroke-linejoin="round"/><path d="M848.5 593.6L851.9 593.6" stroke="#222" stroke-width="0.7" stroke-linecap="round"/><path d="M847.5 606.5 L850 605.3 L855.3 607.8 L854.5 610.2 L852 610.3 L847.4 608Z" fill="#fff" stroke="#222" stroke-width="0.9" stroke-linejoin="round"/><circle cx="850.5" cy="607.3" r="0.6" fill="#333"/><path d="M845 620 L849 617.3 L862 623.6 L863.3 628 L862 630 L858 632 L856 634.8 L854 633.5 L854 629.5 L845.5 625Z" fill="#fff" stroke="#222" stroke-width="0.9" stroke-linejoin="round"/><path d="M849 619L849 623.5" stroke="#222" stroke-width="0.6" stroke-linecap="round"/><path d="M849 623.5L862.5 628.5" stroke="#222" stroke-width="0.6" stroke-linecap="round"/><circle cx="853.5" cy="622" r="0.7" fill="#333"/><circle cx="858.5" cy="628.5" r="0.6" fill="#333"/><path d="M840.02 639.59L846.02 636.39A0.45 0.9 -28.07 0 0 845.18 634.81L839.18 638.01A0.45 0.9 -28.07 0 0 840.02 639.59Z" fill="#fff" stroke="#222" stroke-width="0.8"/><ellipse cx="845.6" cy="635.6" rx="0.45" ry="0.9" transform="rotate(-28.07 845.6 635.6)" fill="#fff" stroke="#222" stroke-width="0.8"/><path d="M847.23 641.39L853.93 637.79A0.45 0.9 -28.25 0 0 853.07 636.21L846.37 639.81A0.45 0.9 -28.25 0 0 847.23 641.39Z" fill="#fff" stroke="#222" stroke-width="0.8"/><ellipse cx="853.5" cy="637" rx="0.45" ry="0.9" transform="rotate(-28.25 853.5 637)" fill="#fff" stroke="#222" stroke-width="0.8"/><path d="M849.2 651 L850.5 647 L852 645.5 L853 647.2 L854.5 649.5 L853.5 651.5Z" fill="#222" stroke="#222" stroke-width="0.6" stroke-linejoin="round"/><path d="M880.5 601 C880 598.5 882 597.6 883.5 599 L888 604 L888.5 619 C888 621.5 885.5 622.5 884 621 L881.5 619Z" fill="#fff" stroke="#222" stroke-width="0.9" stroke-linejoin="round"/><path d="M883 604L885.5 620" stroke="#222" stroke-width="0.6" stroke-linecap="round"/><path d="M884.5 602 L887.5 606 L886.5 611 L885 607Z" fill="#222" stroke="#222" stroke-width="0.4" stroke-linejoin="round"/><path d="M874.1 612.6 l1.5 -0.8 l0.6 1.2 l-1.4 0.8Z" fill="#222" stroke="#222" stroke-width="0.5" stroke-linejoin="round"/><path d="M878 619 C876.5 620.5 876.5 623 878 624.5 L882 626.5" fill="none" stroke="#222" stroke-width="1.0" stroke-linejoin="round"/><path d="M877.5 621L880.5 622.5" stroke="#222" stroke-width="0.7" stroke-linecap="round"/><circle cx="893.5" cy="614.1" r="1.5" fill="#222"/><ellipse cx="902.5" cy="618" rx="2.3" ry="1.8" transform="rotate(-30 902.5 618)" fill="#fff" stroke="#222" stroke-width="0.9"/><path d="M900 619.5L898.5 621.8" stroke="#222" stroke-width="1.4" stroke-linecap="round"/><ellipse cx="924.5" cy="598.5" rx="2.6" ry="1.8" transform="rotate(-20 924.5 598.5)" fill="#fff" stroke="#222" stroke-width="0.9"/><circle cx="923.5" cy="599.5" r="0.8" fill="#333"/><ellipse cx="926.8" cy="615.7" rx="3.3" ry="6.8" transform="rotate(22 926.8 615.7)" fill="#fff" stroke="#222" stroke-width="1.0"/><path d="M926.43 618.63L942.43 626.63A1.75 3.5 26.57 0 0 945.57 620.37L929.57 612.37A1.75 3.5 26.57 0 0 926.43 618.63Z" fill="#fff" stroke="#222" stroke-width="0.8"/><ellipse cx="929.5" cy="616.5" rx="2.6" ry="5.5" transform="rotate(22 929.5 616.5)" fill="#fff" stroke="#222" stroke-width="0.8"/><ellipse cx="944.4" cy="623.6" rx="3.6" ry="6.6" transform="rotate(22 944.4 623.6)" fill="#fff" stroke="#222" stroke-width="1.0"/><ellipse cx="947.5" cy="625" rx="2.8" ry="5.2" transform="rotate(22 947.5 625)" fill="#fff" stroke="#222" stroke-width="1.0"/><ellipse cx="948.5" cy="625.6" rx="1.6" ry="3" transform="rotate(22 948.5 625.6)" fill="#fff" stroke="#222" stroke-width="0.8"/><path d="M940.8 641 Q942 638.5 943.3 641 L943.3 642 L940.8 642Z" fill="#fff" stroke="#222" stroke-width="0.8" stroke-linejoin="round"/><path d="M941 649.3 Q942.1 648 943.2 649.3 L942.6 650.5 L942.6 652.3 L941.6 652.3 L941.6 650.5Z" fill="#111" stroke="#222" stroke-width="0.5" stroke-linejoin="round"/><path d="M968.16 639.3L997.56 656A1.15 2.3 29.6 0 0 999.84 652L970.44 635.3A1.15 2.3 29.6 0 0 968.16 639.3Z" fill="#fff" stroke="#222" stroke-width="1.0"/><ellipse cx="998.7" cy="654" rx="1.15" ry="2.3" transform="rotate(29.6 998.7 654)" fill="#fff" stroke="#222" stroke-width="1.0"/><path d="M969.0 639.6l1 -4.2M970.6 640.5l1 -4.2M972.2 641.4l1 -4.2M973.8 642.3l1 -4.2M975.4 643.2l1 -4.2M977.0 644.1l1 -4.2M978.6 645.0l1 -4.2M980.2 645.9l1 -4.2M981.8 646.8l1 -4.2M983.4 647.7l1 -4.2M985.0 648.6l1 -4.2M986.6 649.6l1 -4.2M988.2 650.5l1 -4.2M989.8 651.4l1 -4.2M991.4 652.3l1 -4.2M993.0 653.2l1 -4.2M994.6 654.1l1 -4.2M996.2 655.0l1 -4.2M997.8 655.9l1 -4.2" stroke="#222" stroke-width="0.8"/><path d="M1009.06 663.12L1015.76 665.72A1.3 2.6 21.21 0 0 1017.64 660.88L1010.94 658.28A1.3 2.6 21.21 0 0 1009.06 663.12Z" fill="#fff" stroke="#222" stroke-width="0.8"/><ellipse cx="1016.7" cy="663.3" rx="1.3" ry="3.8" transform="rotate(21.21 1016.7 663.3)" fill="#fff" stroke="#222" stroke-width="0.8"/><path d="M1025.94 666.63L1041.94 674.03A0.9 1.8 24.82 0 0 1043.46 670.77L1027.46 663.37A0.9 1.8 24.82 0 0 1025.94 666.63Z" fill="#fff" stroke="#222" stroke-width="0.8"/><ellipse cx="1042.7" cy="672.4" rx="0.9" ry="1.8" transform="rotate(24.82 1042.7 672.4)" fill="#fff" stroke="#222" stroke-width="0.8"/><path d="M1026.5 663.5 L1031 665.7 L1030 668.8 L1025.7 666.5Z" fill="#444" stroke="#222" stroke-width="0.4" stroke-linejoin="round"/><circle cx="1051.3" cy="677.4" r="1.1" fill="#111"/><path d="M1067.85 697.85L1088.85 707.05A3.63 6.6 23.66 0 0 1094.15 694.95L1073.15 685.75A3.63 6.6 23.66 0 0 1067.85 697.85Z" fill="#fff" stroke="#222" stroke-width="0.8"/><ellipse cx="1091.5" cy="701" rx="3.63" ry="6.6" transform="rotate(23.66 1091.5 701)" fill="#fff" stroke="#222" stroke-width="0.8"/><path d="M1078 689 L1086 692.5 L1085 701 L1077 697.5Z" fill="#fff" stroke="#222" stroke-width="0.8" stroke-linejoin="round"/><path d="M1079.5 692L1084 694" stroke="#222" stroke-width="0.8" stroke-linecap="round"/><circle cx="1092" cy="701.3" r="2.2" fill="#111"/><path d="M1098.84 711.26L1107.44 714.16A1.22 2.7 18.63 0 0 1109.16 709.04L1100.56 706.14A1.22 2.7 18.63 0 0 1098.84 711.26Z" fill="#222" stroke="#222" stroke-width="0.8"/><ellipse cx="1108.3" cy="711.6" rx="1.22" ry="2.7" transform="rotate(18.63 1108.3 711.6)" fill="#555" stroke="#222" stroke-width="0.8"/><path d="M1101.2 711.49L1101.64 707.07" stroke="#aaa" stroke-width="0.35"/><path d="M1102.92 712.07L1103.36 707.65" stroke="#aaa" stroke-width="0.35"/><path d="M1104.64 712.65L1105.08 708.23" stroke="#aaa" stroke-width="0.35"/><path d="M1106.36 713.23L1106.8 708.81" stroke="#aaa" stroke-width="0.35"/><circle cx="1071.3" cy="704.7" r="0.7" fill="#111"/><rect x="1070.5" y="709.7" width="1.6" height="2.2" fill="#111"/><rect x="1071" y="719" width="1.5" height="3.4" fill="#111"/><rect x="1076.3" y="723.5" width="1.6" height="3.6" fill="#111"/><path d="M1084.5 724 Q1086 722.5 1087.5 724 L1086.7 725 L1086.7 727.5 L1085.3 727.5 L1085.3 725Z" fill="#fff" stroke="#222" stroke-width="0.8" stroke-linejoin="round"/><path d="M558.1 415.61L570.1 421.01A1.1 2.2 24.23 0 0 571.9 416.99L559.9 411.59A1.1 2.2 24.23 0 0 558.1 415.61Z" fill="#111" stroke="#222" stroke-width="0.8"/><ellipse cx="571" cy="419" rx="1.1" ry="2.2" transform="rotate(24.23 571 419)" fill="#333" stroke="#222" stroke-width="0.8"/><path d="M577.69 423.15L595.39 432.55A0.65 1.3 27.97 0 0 596.61 430.25L578.91 420.85A0.65 1.3 27.97 0 0 577.69 423.15Z" fill="#888" stroke="#222" stroke-width="0.8"/><ellipse cx="596" cy="431.4" rx="0.65" ry="1.3" transform="rotate(27.97 596 431.4)" fill="#fff" stroke="#222" stroke-width="0.8"/><path d="M582 423.5 L586 425.6 M588 426.7 L592 428.8" stroke="#111" stroke-width="2.2"/><circle cx="604.3" cy="437.1" r="0.8" fill="#111"/><circle cx="610.2" cy="442.1" r="2.5" fill="#111"/><ellipse cx="630.7" cy="451.3" rx="1.4" ry="2.1" transform="rotate(25 630.7 451.3)" fill="none" stroke="#222" stroke-width="1.0"/><ellipse cx="643.9" cy="457.8" rx="5.4" ry="7.4" transform="rotate(22 643.9 457.8)" fill="none" stroke="#444" stroke-width="2.2"/><ellipse cx="643.9" cy="457.8" rx="5.4" ry="7.4" transform="rotate(22 643.9 457.8)" fill="none" stroke="#ccc" stroke-width="0.7"/><path d="M646.46 469.46L655.46 475.56A3.24 7.2 34.13 0 0 663.54 463.64L654.54 457.54A3.24 7.2 34.13 0 0 646.46 469.46Z" fill="#111" stroke="#222" stroke-width="0.8"/><ellipse cx="659.5" cy="469.6" rx="3.24" ry="7.2" transform="rotate(34.13 659.5 469.6)" fill="#ddd" stroke="#222" stroke-width="0.8"/><ellipse cx="659.5" cy="469.6" rx="2.6" ry="5" transform="rotate(25 659.5 469.6)" fill="#fff" stroke="#222" stroke-width="0.8"/><path d="M659.6 473.6L673.1 479.7A1.7 3.4 24.32 0 0 675.9 473.5L662.4 467.4A1.7 3.4 24.32 0 0 659.6 473.6Z" fill="#fff" stroke="#222" stroke-width="0.8"/><ellipse cx="674.5" cy="476.6" rx="1.7" ry="3.4" transform="rotate(24.32 674.5 476.6)" fill="#fff" stroke="#222" stroke-width="0.8"/><path d="M666 468L665 472.5" stroke="#222" stroke-width="1.2" stroke-linecap="round"/><path d="M668.5 469.5L667.5 474" stroke="#222" stroke-width="1.2" stroke-linecap="round"/><ellipse cx="674.5" cy="476.6" rx="1" ry="1.6" transform="rotate(25 674.5 476.6)" fill="none" stroke="#222" stroke-width="0.6"/><ellipse cx="684.3" cy="481.9" rx="2.5" ry="3.1" transform="rotate(20 684.3 481.9)" fill="none" stroke="#222" stroke-width="1.6"/><circle cx="684.5" cy="482" r="0.8" fill="#111"/><circle cx="690.2" cy="485.1" r="1.2" fill="#111"/><ellipse cx="697.3" cy="489" rx="2.5" ry="4" transform="rotate(22 697.3 489)" fill="none" stroke="#222" stroke-width="1.4"/><ellipse cx="707.5" cy="494.6" rx="2" ry="3" transform="rotate(22 707.5 494.6)" fill="none" stroke="#222" stroke-width="1.3"/><path d="M770.39 491.12L746.89 480.62A4.81 8.3 -155.92 0 0 740.11 495.78L763.61 506.28A4.81 8.3 -155.92 0 0 770.39 491.12Z" fill="#fff" stroke="#222" stroke-width="0.8"/><ellipse cx="743.5" cy="488.2" rx="4.81" ry="8.3" transform="rotate(-155.92 743.5 488.2)" fill="#fff" stroke="#222" stroke-width="0.8"/><ellipse cx="743.5" cy="488.2" rx="3.6" ry="6.6" transform="rotate(24 743.5 488.2)" fill="#111" stroke="#222" stroke-width="0"/><path d="M756 502.83L760.3 504.83A3.74 8.3 24.94 0 0 767.3 489.77L763 487.77A3.74 8.3 24.94 0 1 756 502.83Z" fill="#111"/><path d="M763.4 504.8 A3.5 8.3 24 0 0 769.6 491.7" stroke="#fff" stroke-width="0.8" fill="none"/><circle cx="749.5" cy="487.5" r="0.5" fill="#333"/><path d="M746.69 518.22L723.19 507.72A4.81 8.3 -155.92 0 0 716.41 522.88L739.91 533.38A4.81 8.3 -155.92 0 0 746.69 518.22Z" fill="#fff" stroke="#222" stroke-width="0.8"/><ellipse cx="719.8" cy="515.3" rx="4.81" ry="8.3" transform="rotate(-155.92 719.8 515.3)" fill="#fff" stroke="#222" stroke-width="0.8"/><ellipse cx="719.8" cy="515.3" rx="3.6" ry="6.6" transform="rotate(24 719.8 515.3)" fill="#111" stroke="#222" stroke-width="0"/><path d="M732.3 529.93L736.6 531.93A3.74 8.3 24.94 0 0 743.6 516.87L739.3 514.87A3.74 8.3 24.94 0 1 732.3 529.93Z" fill="#111"/><path d="M739.7 531.9 A3.5 8.3 24 0 0 745.9 518.8" stroke="#fff" stroke-width="0.8" fill="none"/><circle cx="725.8" cy="514.6" r="0.5" fill="#333"/><path d="M778.93 508.12L785.43 512.52A1.26 2.8 34.09 0 0 788.57 507.88L782.07 503.48A1.26 2.8 34.09 0 0 778.93 508.12Z" fill="#222" stroke="#222" stroke-width="0.8"/><ellipse cx="787" cy="510.2" rx="1.26" ry="2.8" transform="rotate(34.09 787 510.2)" fill="#555" stroke="#222" stroke-width="0.8"/><path d="M781.28 509.04L782.97 504.76" stroke="#aaa" stroke-width="0.35"/><path d="M782.91 510.14L784.59 505.86" stroke="#aaa" stroke-width="0.35"/><path d="M784.53 511.24L786.22 506.96" stroke="#aaa" stroke-width="0.35"/><path d="M420.5 808 L431 803.8 L439.8 806 L440.1 816 L436 819 L433 818.5 L430 821 L420.7 819Z" fill="#fff" stroke="#222" stroke-width="1.0" stroke-linejoin="round"/><path d="M420.5 808 L429.5 811 L429.8 821 M429.5 811 L439.8 806" fill="none" stroke="#222" stroke-width="0.8" stroke-linejoin="round"/><path d="M421.5 810 L428.5 812.5 L428.5 819 L421.5 817Z" fill="#fff" stroke="#222" stroke-width="0.7" stroke-linejoin="round"/><path d="M423 812L423 817.5" stroke="#222" stroke-width="1.2" stroke-linecap="round"/><path d="M426 813L426 818.5" stroke="#222" stroke-width="0.8" stroke-linecap="round"/><path d="M431.5 811 L437.5 808.5 L437.8 814.5 L432 816.5Z" fill="#fff" stroke="#222" stroke-width="0.7" stroke-linejoin="round"/><circle cx="434.5" cy="813" r="1" fill="#222"/><path d="M428.5 819 L432.5 818.3 C431.5 822 430.5 826 430.3 829.5 L431 833.5 L428.3 834 C426 831 425.5 827 426.8 823Z" fill="#fff" stroke="#222" stroke-width="1.0" stroke-linejoin="round"/><path d="M482 810 L498.7 802.9 L529 813 L535.1 816.4 L532 822 L518 830.5 L514.5 832.2 L482.8 814.5Z" fill="#fff" stroke="#222" stroke-width="1.0" stroke-linejoin="round"/><path d="M482.8 812.5 L514.5 829 L518 830.5 M514.5 829 L532 818" fill="none" stroke="#222" stroke-width="0.8" stroke-linejoin="round"/><ellipse cx="504.2" cy="813.2" rx="6.6" ry="5" fill="#fff" stroke="#111" stroke-width="2" stroke-dasharray="1.3 0.9"/><ellipse cx="504.2" cy="813.2" rx="3.4" ry="2.5" transform="rotate(0 504.2 813.2)" fill="#fff" stroke="#222" stroke-width="0.8"/><path d="M487 806.5 L493 804 L495 806 L489 808.5Z" fill="#444" stroke="#222" stroke-width="0.4" stroke-linejoin="round"/><path d="M513.5 815 L524 810.5 L527 813 L517 818Z" fill="#333" stroke="#222" stroke-width="0.5" stroke-linejoin="round"/><path d="M518 821 L526.5 817 L528 819.5 L520 823.5Z" fill="#555" stroke="#222" stroke-width="0.5" stroke-linejoin="round"/><path d="M527 813.5 L532 811.5 L535 815 L534.5 819 L530 821 L527.5 818Z" fill="#111" stroke="#222" stroke-width="0.5" stroke-linejoin="round"/><ellipse cx="514.8" cy="829" rx="2.2" ry="2.8" transform="rotate(20 514.8 829)" fill="#fff" stroke="#222" stroke-width="0.9"/><ellipse cx="483.8" cy="811.5" rx="1.2" ry="1.2" transform="rotate(0 483.8 811.5)" fill="none" stroke="#222" stroke-width="0.8"/><path d="M584.47 813.3L564.67 823.6A1.98 4.4 152.52 0 0 568.73 831.4L588.53 821.1A1.98 4.4 152.52 0 0 584.47 813.3Z" fill="#fff" stroke="#222" stroke-width="0.8"/><ellipse cx="566.7" cy="827.5" rx="1.98" ry="4.4" transform="rotate(152.52 566.7 827.5)" fill="#fff" stroke="#222" stroke-width="0.8"/><path d="M575 818.5 L577 812 L580 810 L583.5 811 L584.5 814.5 L583 818.5 L579.5 821Z" fill="#fff" stroke="#222" stroke-width="0.9" stroke-linejoin="round"/><path d="M577 814 L583 812 L583 816 L578 818Z" fill="#222" stroke="#222" stroke-width="0.4" stroke-linejoin="round"/><path d="M582 810.5L584 808.5" stroke="#222" stroke-width="1.2" stroke-linecap="round"/><path d="M819.31 719.72L659.81 807.72A2.64 6.6 151.11 0 0 666.19 819.28L825.69 731.28A2.64 6.6 151.11 0 0 819.31 719.72Z" fill="#fff" stroke="#222" stroke-width="0.8"/><ellipse cx="663" cy="813.5" rx="2.64" ry="6.6" transform="rotate(151.11 663 813.5)" fill="#fff" stroke="#222" stroke-width="0.8"/><ellipse cx="666.5" cy="811.5" rx="2.6" ry="6.6" transform="rotate(-29 666.5 811.5)" fill="none" stroke="#222" stroke-width="0.7"/><path d="M659.56 809.64L644.56 818.04A2.25 5 150.75 0 0 649.44 826.76L664.44 818.36A2.25 5 150.75 0 0 659.56 809.64Z" fill="#fff" stroke="#222" stroke-width="0.8"/><ellipse cx="647" cy="822.4" rx="2.25" ry="5" transform="rotate(150.75 647 822.4)" fill="#fff" stroke="#222" stroke-width="0.8"/><path d="M653.43 824.17L660.43 820.27A2.25 5 -29.12 0 0 655.57 811.53L648.57 815.43A2.25 5 -29.12 0 1 653.43 824.17Z" fill="#222"/><path d="M652 819 l1.6 -0.9 M654.5 817.6 l1.6 -0.9" stroke="#888" stroke-width="0.6"/><ellipse cx="808" cy="726.5" rx="2.6" ry="6.6" transform="rotate(-29 808 726.5)" fill="none" stroke="#222" stroke-width="0.7"/><path d="M813 726L822 721.5" stroke="#222" stroke-width="0.6" stroke-linecap="round"/><path d="M814 729L822.5 724.5" stroke="#222" stroke-width="0.6" stroke-linecap="round"/><path d="M806.5 722.5 L808.5 721 L809 723Z" fill="#333" stroke="#222" stroke-width="0.4" stroke-linejoin="round"/></g>
<g fill="#fff" stroke="#333" stroke-width="1.0"><ellipse cx="129.4" cy="62.2" rx="12.9" ry="12.3"/><ellipse cx="173.1" cy="62.2" rx="12.9" ry="12.3"/><ellipse cx="207.8" cy="62.2" rx="12.9" ry="12.3"/><ellipse cx="254.2" cy="62.2" rx="12.9" ry="12.3"/><ellipse cx="250.8" cy="92.8" rx="12.9" ry="12.3"/><ellipse cx="250.8" cy="123.5" rx="12.9" ry="12.3"/><ellipse cx="250.8" cy="155" rx="12.9" ry="12.3"/><ellipse cx="128.7" cy="107.9" rx="12.9" ry="12.3"/><ellipse cx="128.7" cy="139.9" rx="12.9" ry="12.3"/><ellipse cx="183.5" cy="182.3" rx="12.9" ry="12.3"/><ellipse cx="469.2" cy="44.8" rx="12.9" ry="12.3"/><ellipse cx="328.3" cy="150.9" rx="12.9" ry="12.3"/><ellipse cx="351.75" cy="168.75" rx="12.9" ry="12.3"/><ellipse cx="405.75" cy="205" rx="12.9" ry="12.3"/><ellipse cx="597" cy="41.25" rx="12.9" ry="12.3"/><ellipse cx="621" cy="57.4" rx="12.9" ry="12.3"/><ellipse cx="643.75" cy="70" rx="12.9" ry="12.3"/><ellipse cx="670.1" cy="54.6" rx="12.9" ry="12.3"/><ellipse cx="671.2" cy="86.6" rx="12.9" ry="12.3"/><ellipse cx="695.75" cy="100.75" rx="12.9" ry="12.3"/><ellipse cx="725.75" cy="80.75" rx="12.9" ry="12.3"/><ellipse cx="754.8" cy="98.3" rx="12.9" ry="12.3"/><ellipse cx="725.5" cy="118.25" rx="12.9" ry="12.3"/><ellipse cx="778.75" cy="115.75" rx="12.9" ry="12.3"/><ellipse cx="751.25" cy="132.5" rx="12.9" ry="12.3"/><ellipse cx="775.75" cy="147" rx="12.9" ry="12.3"/><ellipse cx="821.75" cy="142.5" rx="12.9" ry="12.3"/><ellipse cx="529.9" cy="146" rx="12.9" ry="12.3"/><ellipse cx="560" cy="177" rx="12.9" ry="12.3"/><ellipse cx="527.5" cy="187.6" rx="12.9" ry="12.3"/><ellipse cx="526.25" cy="212.5" rx="12.9" ry="12.3"/><ellipse cx="529.2" cy="240.3" rx="12.9" ry="12.3"/><ellipse cx="527.5" cy="269.6" rx="12.9" ry="12.3"/><ellipse cx="648.25" cy="236.25" rx="12.9" ry="12.3"/><ellipse cx="591.8" cy="295.4" rx="12.9" ry="12.3"/><ellipse cx="559.4" cy="311.7" rx="12.9" ry="12.3"/><ellipse cx="616.1" cy="309.7" rx="12.9" ry="12.3"/><ellipse cx="638.2" cy="324.3" rx="12.9" ry="12.3"/><ellipse cx="683.3" cy="291.8" rx="12.9" ry="12.3"/><ellipse cx="683.5" cy="325.5" rx="12.9" ry="12.3"/><ellipse cx="717.1" cy="313.8" rx="12.9" ry="12.3"/><ellipse cx="719.4" cy="345.7" rx="12.9" ry="12.3"/><ellipse cx="752.5" cy="334.5" rx="12.9" ry="12.3"/><ellipse cx="787" cy="353" rx="12.9" ry="12.3"/><ellipse cx="812.5" cy="335" rx="12.9" ry="12.3"/><ellipse cx="845.7" cy="353.4" rx="12.9" ry="12.3"/><ellipse cx="834.9" cy="185" rx="12.9" ry="12.3"/><ellipse cx="872.5" cy="171" rx="12.9" ry="12.3"/><ellipse cx="878.7" cy="206" rx="12.9" ry="12.3"/><ellipse cx="903.8" cy="219.8" rx="12.9" ry="12.3"/><ellipse cx="914.5" cy="37.5" rx="12.9" ry="12.3"/><ellipse cx="870.5" cy="52.25" rx="12.9" ry="12.3"/><ellipse cx="873.5" cy="83.5" rx="12.9" ry="12.3"/><ellipse cx="852" cy="114" rx="12.9" ry="12.3"/><ellipse cx="883.25" cy="136.25" rx="12.9" ry="12.3"/><ellipse cx="927" cy="149.5" rx="12.9" ry="12.3"/><ellipse cx="969.25" cy="176.25" rx="12.9" ry="12.3"/><ellipse cx="1008.25" cy="182" rx="12.9" ry="12.3"/><ellipse cx="1049.25" cy="158.75" rx="12.9" ry="12.3"/><ellipse cx="1069.25" cy="111.25" rx="12.9" ry="12.3"/><ellipse cx="1080.75" cy="78.75" rx="12.9" ry="12.3"/><ellipse cx="1087.5" cy="51.25" rx="12.9" ry="12.3"/><ellipse cx="952" cy="229.5" rx="12.9" ry="12.3"/><ellipse cx="952" cy="261.25" rx="12.9" ry="12.3"/><ellipse cx="952.5" cy="303" rx="12.9" ry="12.3"/><ellipse cx="952.5" cy="333.75" rx="12.9" ry="12.3"/><ellipse cx="952.5" cy="435.5" rx="12.9" ry="12.3"/><ellipse cx="951.25" cy="465" rx="12.9" ry="12.3"/><ellipse cx="953" cy="491.25" rx="12.9" ry="12.3"/><ellipse cx="1110.5" cy="255.5" rx="12.9" ry="12.3"/><ellipse cx="1109.5" cy="282" rx="12.9" ry="12.3"/><ellipse cx="1111.25" cy="307.5" rx="12.9" ry="12.3"/><ellipse cx="1111.25" cy="333.75" rx="12.9" ry="12.3"/><ellipse cx="1111.25" cy="360" rx="12.9" ry="12.3"/><ellipse cx="1111.25" cy="388" rx="12.9" ry="12.3"/><ellipse cx="1111.25" cy="417" rx="12.9" ry="12.3"/><ellipse cx="1111.25" cy="445" rx="12.9" ry="12.3"/><ellipse cx="1111.25" cy="472.5" rx="12.9" ry="12.3"/><ellipse cx="1110.5" cy="527.5" rx="12.9" ry="12.3"/><ellipse cx="1110.75" cy="558" rx="12.9" ry="12.3"/><ellipse cx="151.25" cy="261.25" rx="12.9" ry="12.3"/><ellipse cx="181.25" cy="285" rx="12.9" ry="12.3"/><ellipse cx="205" cy="299.5" rx="12.9" ry="12.3"/><ellipse cx="227.5" cy="312.5" rx="12.9" ry="12.3"/><ellipse cx="315" cy="232" rx="12.9" ry="12.3"/><ellipse cx="338.75" cy="247.5" rx="12.9" ry="12.3"/><ellipse cx="390" cy="279.75" rx="12.9" ry="12.3"/><ellipse cx="415.5" cy="295.5" rx="12.9" ry="12.3"/><ellipse cx="239.25" cy="343.75" rx="12.9" ry="12.3"/><ellipse cx="240" cy="370.75" rx="12.9" ry="12.3"/><ellipse cx="306.25" cy="362.5" rx="12.9" ry="12.3"/><ellipse cx="334.25" cy="377.5" rx="12.9" ry="12.3"/><ellipse cx="358" cy="393" rx="12.9" ry="12.3"/><ellipse cx="381.1" cy="406" rx="12.9" ry="12.3"/><ellipse cx="428.75" cy="434.5" rx="12.9" ry="12.3"/><ellipse cx="586.25" cy="330.75" rx="12.9" ry="12.3"/><ellipse cx="610" cy="345.5" rx="12.9" ry="12.3"/><ellipse cx="635" cy="359.25" rx="12.9" ry="12.3"/><ellipse cx="656.25" cy="374.25" rx="12.9" ry="12.3"/><ellipse cx="681" cy="387" rx="12.9" ry="12.3"/><ellipse cx="708.75" cy="405" rx="12.9" ry="12.3"/><ellipse cx="739.25" cy="423" rx="12.9" ry="12.3"/><ellipse cx="764.25" cy="437" rx="12.9" ry="12.3"/><ellipse cx="791.25" cy="459.5" rx="12.9" ry="12.3"/><ellipse cx="826.25" cy="476.25" rx="12.9" ry="12.3"/><ellipse cx="542.7" cy="495.4" rx="12.9" ry="12.3"/><ellipse cx="588.75" cy="519.1" rx="12.9" ry="12.3"/><ellipse cx="615.6" cy="531.6" rx="12.9" ry="12.3"/><ellipse cx="634.9" cy="547.2" rx="12.9" ry="12.3"/><ellipse cx="658.3" cy="564.5" rx="12.9" ry="12.3"/><ellipse cx="680.5" cy="577.25" rx="12.9" ry="12.3"/><ellipse cx="682.5" cy="607.5" rx="12.9" ry="12.3"/><ellipse cx="243" cy="412" rx="12.9" ry="12.3"/><ellipse cx="73" cy="438.75" rx="12.9" ry="12.3"/><ellipse cx="127.5" cy="438" rx="12.9" ry="12.3"/><ellipse cx="206.25" cy="437" rx="12.9" ry="12.3"/><ellipse cx="300" cy="422" rx="12.9" ry="12.3"/><ellipse cx="298.5" cy="452.75" rx="12.9" ry="12.3"/><ellipse cx="295.75" cy="502.25" rx="12.9" ry="12.3"/><ellipse cx="84.75" cy="541.5" rx="12.9" ry="12.3"/><ellipse cx="137.6" cy="597.6" rx="12.9" ry="12.3"/><ellipse cx="156.6" cy="619" rx="12.9" ry="12.3"/><ellipse cx="176" cy="639.5" rx="12.9" ry="12.3"/><ellipse cx="195.8" cy="660.6" rx="12.9" ry="12.3"/><ellipse cx="219.1" cy="681.8" rx="12.9" ry="12.3"/><ellipse cx="238.5" cy="701.1" rx="12.9" ry="12.3"/><ellipse cx="258.5" cy="719.2" rx="12.9" ry="12.3"/><ellipse cx="279" cy="739" rx="12.9" ry="12.3"/><ellipse cx="310" cy="741.25" rx="12.9" ry="12.3"/><ellipse cx="338" cy="739.25" rx="12.9" ry="12.3"/><ellipse cx="370" cy="740" rx="12.9" ry="12.3"/><ellipse cx="448.5" cy="739" rx="12.9" ry="12.3"/><ellipse cx="481.25" cy="619.5" rx="12.9" ry="12.3"/><ellipse cx="528" cy="623" rx="12.9" ry="12.3"/><ellipse cx="563.3" cy="625.7" rx="12.9" ry="12.3"/><ellipse cx="484.5" cy="535" rx="12.9" ry="12.3"/><ellipse cx="483.75" cy="561.25" rx="12.9" ry="12.3"/><ellipse cx="483" cy="590.5" rx="12.9" ry="12.3"/><ellipse cx="887.5" cy="507" rx="12.9" ry="12.3"/><ellipse cx="917.75" cy="521.25" rx="12.9" ry="12.3"/><ellipse cx="947.5" cy="536.75" rx="12.9" ry="12.3"/><ellipse cx="976.25" cy="552.5" rx="12.9" ry="12.3"/><ellipse cx="1007" cy="571.25" rx="12.9" ry="12.3"/><ellipse cx="1032.25" cy="583" rx="12.9" ry="12.3"/><ellipse cx="1057.5" cy="596.25" rx="12.9" ry="12.3"/><ellipse cx="1133.25" cy="631.25" rx="12.9" ry="12.3"/><ellipse cx="710" cy="622" rx="12.9" ry="12.3"/><ellipse cx="733" cy="635" rx="12.9" ry="12.3"/><ellipse cx="756.25" cy="648.75" rx="12.9" ry="12.3"/><ellipse cx="779.5" cy="660.9" rx="12.9" ry="12.3"/><ellipse cx="803" cy="673" rx="12.9" ry="12.3"/><ellipse cx="827" cy="686.25" rx="12.9" ry="12.3"/><ellipse cx="854" cy="700.8" rx="12.9" ry="12.3"/><ellipse cx="880.4" cy="716.1" rx="12.9" ry="12.3"/><ellipse cx="906.3" cy="729.3" rx="12.9" ry="12.3"/><ellipse cx="929.5" cy="743" rx="12.9" ry="12.3"/><ellipse cx="953.75" cy="756.25" rx="12.9" ry="12.3"/><ellipse cx="979.5" cy="769" rx="12.9" ry="12.3"/><ellipse cx="1005.75" cy="784" rx="12.9" ry="12.3"/><ellipse cx="1031.25" cy="797" rx="12.9" ry="12.3"/><ellipse cx="1053.75" cy="810.75" rx="12.9" ry="12.3"/><ellipse cx="1077.1" cy="823.8" rx="12.9" ry="12.3"/><ellipse cx="1113" cy="822" rx="12.9" ry="12.3"/><ellipse cx="1135.75" cy="798.25" rx="12.9" ry="12.3"/><ellipse cx="1155" cy="774" rx="12.9" ry="12.3"/><ellipse cx="413.5" cy="774" rx="16.3" ry="15.8"/><ellipse cx="483.25" cy="779" rx="16.3" ry="15.8"/><ellipse cx="562.5" cy="785" rx="16.3" ry="15.8"/><ellipse cx="636.5" cy="789.5" rx="16.3" ry="15.8"/></g>
<g font-family="Liberation Sans" font-size="9.8" fill="#1a1a1a"><text x="118.5" y="64.3" textLength="21.8" lengthAdjust="spacingAndGlyphs">2501</text><text x="162.2" y="64.3" textLength="21.8" lengthAdjust="spacingAndGlyphs">2510</text><text x="196.2" y="64.3" textLength="23.2" lengthAdjust="spacingAndGlyphs">2508</text><text x="242.6" y="64.3" textLength="23.2" lengthAdjust="spacingAndGlyphs">2507</text><text x="239.2" y="94.9" textLength="23.2" lengthAdjust="spacingAndGlyphs">2505</text><text x="239.2" y="125.6" textLength="23.2" lengthAdjust="spacingAndGlyphs">2509</text><text x="239.2" y="157.1" textLength="23.2" lengthAdjust="spacingAndGlyphs">2506</text><text x="117.1" y="110" textLength="23.2" lengthAdjust="spacingAndGlyphs">2502</text><text x="117.1" y="142" textLength="23.2" lengthAdjust="spacingAndGlyphs">2503</text><text x="171.9" y="184.4" textLength="23.2" lengthAdjust="spacingAndGlyphs">2504</text><text x="457.6" y="46.9" textLength="23.2" lengthAdjust="spacingAndGlyphs">2608</text><text x="316.7" y="153" textLength="23.2" lengthAdjust="spacingAndGlyphs">2655</text><text x="340.15" y="170.85" textLength="23.2" lengthAdjust="spacingAndGlyphs">2603</text><text x="394.15" y="207.1" textLength="23.2" lengthAdjust="spacingAndGlyphs">2658</text><text x="585.4" y="43.35" textLength="23.2" lengthAdjust="spacingAndGlyphs">2656</text><text x="610.1" y="59.5" textLength="21.8" lengthAdjust="spacingAndGlyphs">2612</text><text x="632.85" y="72.1" textLength="21.8" lengthAdjust="spacingAndGlyphs">2610</text><text x="658.5" y="56.7" textLength="23.2" lengthAdjust="spacingAndGlyphs">2609</text><text x="659.6" y="88.7" textLength="23.2" lengthAdjust="spacingAndGlyphs">2608</text><text x="684.85" y="102.85" textLength="21.8" lengthAdjust="spacingAndGlyphs">2611</text><text x="714.85" y="82.85" textLength="21.8" lengthAdjust="spacingAndGlyphs">2613</text><text x="743.9" y="100.4" textLength="21.8" lengthAdjust="spacingAndGlyphs">2641</text><text x="714.6" y="120.35" textLength="21.8" lengthAdjust="spacingAndGlyphs">2614</text><text x="767.85" y="117.85" textLength="21.8" lengthAdjust="spacingAndGlyphs">2615</text><text x="739.65" y="134.6" textLength="23.2" lengthAdjust="spacingAndGlyphs">2639</text><text x="764.85" y="149.1" textLength="21.8" lengthAdjust="spacingAndGlyphs">2616</text><text x="810.15" y="144.6" textLength="23.2" lengthAdjust="spacingAndGlyphs">2676</text><text x="518.3" y="148.1" textLength="23.2" lengthAdjust="spacingAndGlyphs">2632</text><text x="549.1" y="179.1" textLength="21.8" lengthAdjust="spacingAndGlyphs">2631</text><text x="515.9" y="189.7" textLength="23.2" lengthAdjust="spacingAndGlyphs">2636</text><text x="514.65" y="214.6" textLength="23.2" lengthAdjust="spacingAndGlyphs">2637</text><text x="517.6" y="242.4" textLength="23.2" lengthAdjust="spacingAndGlyphs">2642</text><text x="515.9" y="271.7" textLength="23.2" lengthAdjust="spacingAndGlyphs">2659</text><text x="636.65" y="238.35" textLength="23.2" lengthAdjust="spacingAndGlyphs">2633</text><text x="580.2" y="297.5" textLength="23.2" lengthAdjust="spacingAndGlyphs">2660</text><text x="547.8" y="313.8" textLength="23.2" lengthAdjust="spacingAndGlyphs">2634</text><text x="604.5" y="311.8" textLength="23.2" lengthAdjust="spacingAndGlyphs">2629</text><text x="626.6" y="326.4" textLength="23.2" lengthAdjust="spacingAndGlyphs">2630</text><text x="672.4" y="293.9" textLength="21.8" lengthAdjust="spacingAndGlyphs">2618</text><text x="672.6" y="327.6" textLength="21.8" lengthAdjust="spacingAndGlyphs">2661</text><text x="706.2" y="315.9" textLength="21.8" lengthAdjust="spacingAndGlyphs">2413</text><text x="707.8" y="347.8" textLength="23.2" lengthAdjust="spacingAndGlyphs">2662</text><text x="740.9" y="336.6" textLength="23.2" lengthAdjust="spacingAndGlyphs">2663</text><text x="775.4" y="355.1" textLength="23.2" lengthAdjust="spacingAndGlyphs">2664</text><text x="800.9" y="337.1" textLength="23.2" lengthAdjust="spacingAndGlyphs">2665</text><text x="834.1" y="355.5" textLength="23.2" lengthAdjust="spacingAndGlyphs">2437</text><text x="823.3" y="187.1" textLength="23.2" lengthAdjust="spacingAndGlyphs">2670</text><text x="860.9" y="173.1" textLength="23.2" lengthAdjust="spacingAndGlyphs">2669</text><text x="867.1" y="208.1" textLength="23.2" lengthAdjust="spacingAndGlyphs">2674</text><text x="892.2" y="221.9" textLength="23.2" lengthAdjust="spacingAndGlyphs">2675</text><text x="902.9" y="39.6" textLength="23.2" lengthAdjust="spacingAndGlyphs">2203</text><text x="858.9" y="54.35" textLength="23.2" lengthAdjust="spacingAndGlyphs">2202</text><text x="862.6" y="85.6" textLength="21.8" lengthAdjust="spacingAndGlyphs">2201</text><text x="841.1" y="116.1" textLength="21.8" lengthAdjust="spacingAndGlyphs">2211</text><text x="872.35" y="138.35" textLength="21.8" lengthAdjust="spacingAndGlyphs">2210</text><text x="915.4" y="151.6" textLength="23.2" lengthAdjust="spacingAndGlyphs">2206</text><text x="957.65" y="178.35" textLength="23.2" lengthAdjust="spacingAndGlyphs">2209</text><text x="996.65" y="184.1" textLength="23.2" lengthAdjust="spacingAndGlyphs">2208</text><text x="1037.65" y="160.85" textLength="23.2" lengthAdjust="spacingAndGlyphs">2207</text><text x="1057.65" y="113.35" textLength="23.2" lengthAdjust="spacingAndGlyphs">2206</text><text x="1069.15" y="80.85" textLength="23.2" lengthAdjust="spacingAndGlyphs">2204</text><text x="1075.9" y="53.35" textLength="23.2" lengthAdjust="spacingAndGlyphs">2205</text><text x="941.1" y="231.6" textLength="21.8" lengthAdjust="spacingAndGlyphs">2178</text><text x="941.1" y="263.35" textLength="21.8" lengthAdjust="spacingAndGlyphs">2164</text><text x="941.6" y="305.1" textLength="21.8" lengthAdjust="spacingAndGlyphs">2165</text><text x="941.6" y="335.85" textLength="21.8" lengthAdjust="spacingAndGlyphs">2166</text><text x="941.6" y="437.6" textLength="21.8" lengthAdjust="spacingAndGlyphs">2167</text><text x="940.35" y="467.1" textLength="21.8" lengthAdjust="spacingAndGlyphs">2180</text><text x="942.1" y="493.35" textLength="21.8" lengthAdjust="spacingAndGlyphs">2169</text><text x="1099.6" y="257.6" textLength="21.8" lengthAdjust="spacingAndGlyphs">2162</text><text x="1098.6" y="284.1" textLength="21.8" lengthAdjust="spacingAndGlyphs">2161</text><text x="1100.35" y="309.6" textLength="21.8" lengthAdjust="spacingAndGlyphs">2160</text><text x="1100.35" y="335.85" textLength="21.8" lengthAdjust="spacingAndGlyphs">2159</text><text x="1100.35" y="362.1" textLength="21.8" lengthAdjust="spacingAndGlyphs">2158</text><text x="1100.35" y="390.1" textLength="21.8" lengthAdjust="spacingAndGlyphs">2179</text><text x="1100.35" y="419.1" textLength="21.8" lengthAdjust="spacingAndGlyphs">2156</text><text x="1100.35" y="447.1" textLength="21.8" lengthAdjust="spacingAndGlyphs">2155</text><text x="1100.35" y="474.6" textLength="21.8" lengthAdjust="spacingAndGlyphs">2181</text><text x="1099.6" y="529.6" textLength="21.8" lengthAdjust="spacingAndGlyphs">2152</text><text x="1099.85" y="560.1" textLength="21.8" lengthAdjust="spacingAndGlyphs">2151</text><text x="139.65" y="263.35" textLength="23.2" lengthAdjust="spacingAndGlyphs">2356</text><text x="169.65" y="287.1" textLength="23.2" lengthAdjust="spacingAndGlyphs">2327</text><text x="193.4" y="301.6" textLength="23.2" lengthAdjust="spacingAndGlyphs">2302</text><text x="215.9" y="314.6" textLength="23.2" lengthAdjust="spacingAndGlyphs">2328</text><text x="303.4" y="234.1" textLength="23.2" lengthAdjust="spacingAndGlyphs">2342</text><text x="327.15" y="249.6" textLength="23.2" lengthAdjust="spacingAndGlyphs">2329</text><text x="378.4" y="281.85" textLength="23.2" lengthAdjust="spacingAndGlyphs">2305</text><text x="403.9" y="297.6" textLength="23.2" lengthAdjust="spacingAndGlyphs">2304</text><text x="227.65" y="345.85" textLength="23.2" lengthAdjust="spacingAndGlyphs">2324</text><text x="228.4" y="372.85" textLength="23.2" lengthAdjust="spacingAndGlyphs">2323</text><text x="294.65" y="364.6" textLength="23.2" lengthAdjust="spacingAndGlyphs">2330</text><text x="322.65" y="379.6" textLength="23.2" lengthAdjust="spacingAndGlyphs">2354</text><text x="346.4" y="395.1" textLength="23.2" lengthAdjust="spacingAndGlyphs">2307</text><text x="369.5" y="408.1" textLength="23.2" lengthAdjust="spacingAndGlyphs">2308</text><text x="417.85" y="436.6" textLength="21.8" lengthAdjust="spacingAndGlyphs">2331</text><text x="574.65" y="332.85" textLength="23.2" lengthAdjust="spacingAndGlyphs">2308</text><text x="598.4" y="347.6" textLength="23.2" lengthAdjust="spacingAndGlyphs">2332</text><text x="623.4" y="361.35" textLength="23.2" lengthAdjust="spacingAndGlyphs">2333</text><text x="644.65" y="376.35" textLength="23.2" lengthAdjust="spacingAndGlyphs">2334</text><text x="669.4" y="389.1" textLength="23.2" lengthAdjust="spacingAndGlyphs">2335</text><text x="697.15" y="407.1" textLength="23.2" lengthAdjust="spacingAndGlyphs">2336</text><text x="727.65" y="425.1" textLength="23.2" lengthAdjust="spacingAndGlyphs">2337</text><text x="752.65" y="439.1" textLength="23.2" lengthAdjust="spacingAndGlyphs">2338</text><text x="779.65" y="461.6" textLength="23.2" lengthAdjust="spacingAndGlyphs">2344</text><text x="815.35" y="478.35" textLength="21.8" lengthAdjust="spacingAndGlyphs">2321</text><text x="531.1" y="497.5" textLength="23.2" lengthAdjust="spacingAndGlyphs">2340</text><text x="577.85" y="521.2" textLength="21.8" lengthAdjust="spacingAndGlyphs">2316</text><text x="604" y="533.7" textLength="23.2" lengthAdjust="spacingAndGlyphs">2339</text><text x="624" y="549.3" textLength="21.8" lengthAdjust="spacingAndGlyphs">2211</text><text x="646.7" y="566.6" textLength="23.2" lengthAdjust="spacingAndGlyphs">2343</text><text x="668.9" y="579.35" textLength="23.2" lengthAdjust="spacingAndGlyphs">2426</text><text x="670.9" y="609.6" textLength="23.2" lengthAdjust="spacingAndGlyphs">2427</text><text x="232.1" y="414.1" textLength="21.8" lengthAdjust="spacingAndGlyphs">2715</text><text x="61.4" y="440.85" textLength="23.2" lengthAdjust="spacingAndGlyphs">2726</text><text x="115.9" y="440.1" textLength="23.2" lengthAdjust="spacingAndGlyphs">2727</text><text x="194.65" y="439.1" textLength="23.2" lengthAdjust="spacingAndGlyphs">2728</text><text x="289.1" y="424.1" textLength="21.8" lengthAdjust="spacingAndGlyphs">2716</text><text x="287.6" y="454.85" textLength="21.8" lengthAdjust="spacingAndGlyphs">2717</text><text x="284.85" y="504.35" textLength="21.8" lengthAdjust="spacingAndGlyphs">2719</text><text x="73.15" y="543.6" textLength="23.2" lengthAdjust="spacingAndGlyphs">2702</text><text x="126" y="599.7" textLength="23.2" lengthAdjust="spacingAndGlyphs">2704</text><text x="145.7" y="621.1" textLength="21.8" lengthAdjust="spacingAndGlyphs">2711</text><text x="165.1" y="641.6" textLength="21.8" lengthAdjust="spacingAndGlyphs">2712</text><text x="184.9" y="662.7" textLength="21.8" lengthAdjust="spacingAndGlyphs">2710</text><text x="208.2" y="683.9" textLength="21.8" lengthAdjust="spacingAndGlyphs">2711</text><text x="227.6" y="703.2" textLength="21.8" lengthAdjust="spacingAndGlyphs">2721</text><text x="246.9" y="721.3" textLength="23.2" lengthAdjust="spacingAndGlyphs">2720</text><text x="267.4" y="741.1" textLength="23.2" lengthAdjust="spacingAndGlyphs">2725</text><text x="298.4" y="743.35" textLength="23.2" lengthAdjust="spacingAndGlyphs">2724</text><text x="327.1" y="741.35" textLength="21.8" lengthAdjust="spacingAndGlyphs">2718</text><text x="359.1" y="742.1" textLength="21.8" lengthAdjust="spacingAndGlyphs">2717</text><text x="436.9" y="741.1" textLength="23.2" lengthAdjust="spacingAndGlyphs">2722</text><text x="469.65" y="621.6" textLength="23.2" lengthAdjust="spacingAndGlyphs">2708</text><text x="516.4" y="625.1" textLength="23.2" lengthAdjust="spacingAndGlyphs">2707</text><text x="551.7" y="627.8" textLength="23.2" lengthAdjust="spacingAndGlyphs">2706</text><text x="473.6" y="537.1" textLength="21.8" lengthAdjust="spacingAndGlyphs">2718</text><text x="472.15" y="563.35" textLength="23.2" lengthAdjust="spacingAndGlyphs">2720</text><text x="472.1" y="592.6" textLength="21.8" lengthAdjust="spacingAndGlyphs">2721</text><text x="875.9" y="509.1" textLength="23.2" lengthAdjust="spacingAndGlyphs">2448</text><text x="906.15" y="523.35" textLength="23.2" lengthAdjust="spacingAndGlyphs">2447</text><text x="935.9" y="538.85" textLength="23.2" lengthAdjust="spacingAndGlyphs">2449</text><text x="964.65" y="554.6" textLength="23.2" lengthAdjust="spacingAndGlyphs">2446</text><text x="995.4" y="573.35" textLength="23.2" lengthAdjust="spacingAndGlyphs">2445</text><text x="1020.65" y="585.1" textLength="23.2" lengthAdjust="spacingAndGlyphs">2444</text><text x="1045.9" y="598.35" textLength="23.2" lengthAdjust="spacingAndGlyphs">2443</text><text x="1121.65" y="633.35" textLength="23.2" lengthAdjust="spacingAndGlyphs">2442</text><text x="698.4" y="624.1" textLength="23.2" lengthAdjust="spacingAndGlyphs">2703</text><text x="721.4" y="637.1" textLength="23.2" lengthAdjust="spacingAndGlyphs">2428</text><text x="744.65" y="650.85" textLength="23.2" lengthAdjust="spacingAndGlyphs">2429</text><text x="767.9" y="663" textLength="23.2" lengthAdjust="spacingAndGlyphs">2430</text><text x="791.4" y="675.1" textLength="23.2" lengthAdjust="spacingAndGlyphs">2664</text><text x="816.1" y="688.35" textLength="21.8" lengthAdjust="spacingAndGlyphs">2431</text><text x="842.4" y="702.9" textLength="23.2" lengthAdjust="spacingAndGlyphs">2432</text><text x="868.8" y="718.2" textLength="23.2" lengthAdjust="spacingAndGlyphs">2433</text><text x="894.7" y="731.4" textLength="23.2" lengthAdjust="spacingAndGlyphs">2434</text><text x="917.9" y="745.1" textLength="23.2" lengthAdjust="spacingAndGlyphs">2639</text><text x="942.15" y="758.35" textLength="23.2" lengthAdjust="spacingAndGlyphs">2435</text><text x="967.9" y="771.1" textLength="23.2" lengthAdjust="spacingAndGlyphs">2436</text><text x="994.15" y="786.1" textLength="23.2" lengthAdjust="spacingAndGlyphs">2437</text><text x="1019.65" y="799.1" textLength="23.2" lengthAdjust="spacingAndGlyphs">2438</text><text x="1042.15" y="812.85" textLength="23.2" lengthAdjust="spacingAndGlyphs">2439</text><text x="1066.2" y="825.9" textLength="21.8" lengthAdjust="spacingAndGlyphs">2641</text><text x="1101.4" y="824.1" textLength="23.2" lengthAdjust="spacingAndGlyphs">2437</text><text x="1124.15" y="800.35" textLength="23.2" lengthAdjust="spacingAndGlyphs">2440</text><text x="1144.1" y="776.1" textLength="21.8" lengthAdjust="spacingAndGlyphs">2441</text><text x="402.5" y="777.5" textLength="22" lengthAdjust="spacingAndGlyphs">2100</text><text x="472.25" y="782.5" textLength="22" lengthAdjust="spacingAndGlyphs">2200</text><text x="551.5" y="788.5" textLength="22" lengthAdjust="spacingAndGlyphs">2500</text><text x="625.5" y="793" textLength="22" lengthAdjust="spacingAndGlyphs">2300</text></g>
<defs>
<radialGradient id="rg" cx="0.3" cy="0.28" r="0.85"><stop offset="0" stop-color="#f26a55"/><stop offset="0.45" stop-color="#e03a2a"/><stop offset="1" stop-color="#a81212"/></radialGradient>
<linearGradient id="bg" x1="0.15" y1="0.05" x2="0.75" y2="0.95"><stop offset="0" stop-color="#9a9a9a"/><stop offset="0.3" stop-color="#3a3a3a"/><stop offset="0.6" stop-color="#161616"/><stop offset="1" stop-color="#0c0c0c"/></linearGradient>
<linearGradient id="sg" x1="0.2" y1="0" x2="0.8" y2="1"><stop offset="0" stop-color="#f2f2f2"/><stop offset="0.5" stop-color="#d0d0d0"/><stop offset="1" stop-color="#a8a8a8"/></linearGradient>
<linearGradient id="bowg" x1="0" y1="0" x2="1" y2="0"><stop offset="0" stop-color="#ffffff"/><stop offset="1" stop-color="#c8c8c8"/></linearGradient>
<path id="arc" d="M 31.6 785 A 37.6 37.6 0 0 1 106.8 785"/>
</defs>
<circle cx="69.5" cy="785.4" r="56.6" fill="url(#sg)"/>
<circle cx="69.2" cy="784.8" r="53.4" fill="url(#bg)"/>
<circle cx="68.5" cy="783.5" r="35.5" fill="#ececec"/>
<circle cx="68.5" cy="783.5" r="33.4" fill="url(#rg)"/>
<g font-family="Liberation Sans" font-weight="bold" font-size="15" fill="#f4f4f4" text-anchor="middle"><text transform="translate(38.51 761.08) rotate(-52.5) scale(1.1 1)">H</text><text transform="translate(47.98 752.32) rotate(-33.1) scale(1.1 1)">A</text><text transform="translate(59.83 747.19) rotate(-13.7) scale(1.1 1)">T</text><text transform="translate(72.70 746.29) rotate(5.7) scale(1.1 1)">S</text><text transform="translate(85.15 749.72) rotate(25.1) scale(1.1 1)">A</text><text transform="translate(95.74 757.08) rotate(44.5) scale(1.1 1)">N</text></g>
<g fill="none" stroke="#f6f6f6" stroke-width="1.1" stroke-linejoin="round">
<path d="M67.4 752 L51.8 783.1 L67.4 815.8"/>
<path d="M51.8 783.1 L87.5 783.1"/>
</g>
<path d="M66.8 750.8 C 91 768, 91 799, 66.8 817 C 85.5 799, 85.5 768, 66.8 750.8Z" fill="url(#bowg)" stroke="#e0e0e0" stroke-width="1.0"/>
<path d="M85.5 780.3 L90.8 783.1 L85.5 785.9Z" fill="#f4f4f4"/>
<g font-family="Liberation Sans" fill="#1a1a1a">
<text x="138.2" y="760.2" font-size="22" textLength="78" lengthAdjust="spacingAndGlyphs">BT65-RB</text>
<text x="138.2" y="781" font-size="15.4" textLength="103.7" lengthAdjust="spacingAndGlyphs">Exploded View</text>
<text x="137.8" y="801.3" font-size="15.4" textLength="136.4" lengthAdjust="spacingAndGlyphs">revision : June.2013</text>
<text x="137.8" y="815.7" font-size="11.2" textLength="152" lengthAdjust="spacingAndGlyphs">Indicate model name &amp; caliber</text>
<text x="137.8" y="829.6" font-size="11.4" textLength="102" lengthAdjust="spacingAndGlyphs">when ordering parts</text>
</g>

</svg>
</body></html>
